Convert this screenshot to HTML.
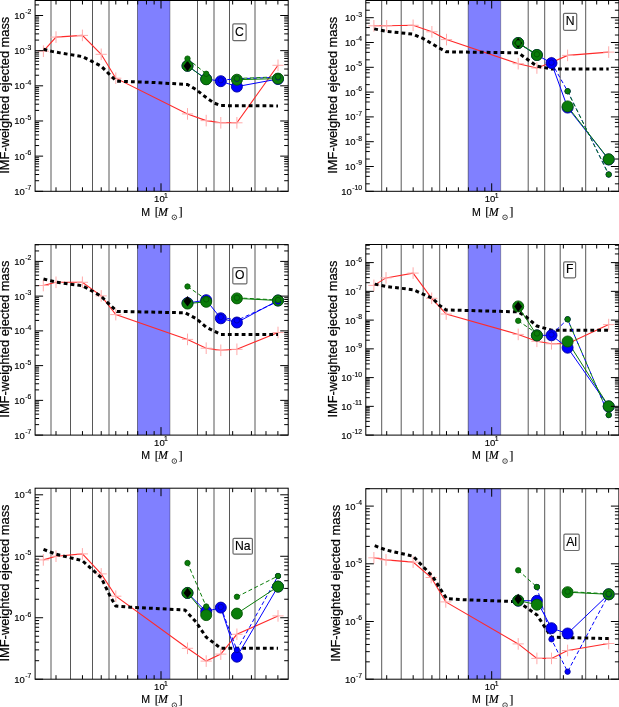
<!DOCTYPE html>
<html><head><meta charset="utf-8"><title>IMF-weighted ejected mass</title>
<style>
html,body{margin:0;padding:0;background:#fff;}
body{width:619px;height:707px;overflow:hidden;font-family:"Liberation Sans",sans-serif;}
svg{display:block;filter:blur(0.45px);}
</style></head><body>
<svg width="619" height="707" viewBox="0 0 619 707">
<rect width="619" height="707" fill="#fff"/>
<rect x="137.5" y="0.5" width="32.5" height="190.8" fill="#8080ff"/>
<line x1="137.5" y1="0.5" x2="137.5" y2="191.3" stroke="#000" stroke-width="1" stroke-opacity="0.45"/>
<line x1="170" y1="0.5" x2="170" y2="191.3" stroke="#000" stroke-width="1" stroke-opacity="0.3"/>
<line x1="51" y1="0.5" x2="51" y2="191.3" stroke="#000" stroke-width="1" stroke-opacity="0.66"/>
<line x1="70.5" y1="0.5" x2="70.5" y2="191.3" stroke="#000" stroke-width="1" stroke-opacity="0.66"/>
<line x1="92.5" y1="0.5" x2="92.5" y2="191.3" stroke="#000" stroke-width="1" stroke-opacity="0.66"/>
<line x1="109" y1="0.5" x2="109" y2="191.3" stroke="#000" stroke-width="1" stroke-opacity="0.66"/>
<line x1="197.5" y1="0.5" x2="197.5" y2="191.3" stroke="#000" stroke-width="1" stroke-opacity="0.66"/>
<line x1="214" y1="0.5" x2="214" y2="191.3" stroke="#000" stroke-width="1" stroke-opacity="0.66"/>
<line x1="229.5" y1="0.5" x2="229.5" y2="191.3" stroke="#000" stroke-width="1" stroke-opacity="0.66"/>
<line x1="255" y1="0.5" x2="255" y2="191.3" stroke="#000" stroke-width="1" stroke-opacity="0.66"/>
<polyline points="43.4,51.2 56,37.1 82.4,35.4 101.2,54.3 115.8,78.2 187.5,113.9 206.2,120.6 220.8,122.8 236.9,122.8 278,65.3" fill="none" stroke="#ff2a2a" stroke-width="1.1" />
<line x1="37.8" y1="51.2" x2="49" y2="51.2" stroke="#ffaaaa" stroke-width="1" />
<line x1="43.4" y1="45.4" x2="43.4" y2="57" stroke="#ffaaaa" stroke-width="1" />
<line x1="50.4" y1="37.1" x2="61.6" y2="37.1" stroke="#ffaaaa" stroke-width="1" />
<line x1="56" y1="31.3" x2="56" y2="42.9" stroke="#ffaaaa" stroke-width="1" />
<line x1="76.8" y1="35.4" x2="88" y2="35.4" stroke="#ffaaaa" stroke-width="1" />
<line x1="82.4" y1="29.6" x2="82.4" y2="41.2" stroke="#ffaaaa" stroke-width="1" />
<line x1="95.6" y1="54.3" x2="106.8" y2="54.3" stroke="#ffaaaa" stroke-width="1" />
<line x1="101.2" y1="48.5" x2="101.2" y2="60.1" stroke="#ffaaaa" stroke-width="1" />
<line x1="110.2" y1="78.2" x2="121.4" y2="78.2" stroke="#ffaaaa" stroke-width="1" />
<line x1="115.8" y1="72.4" x2="115.8" y2="84" stroke="#ffaaaa" stroke-width="1" />
<line x1="181.9" y1="113.9" x2="193.1" y2="113.9" stroke="#ffaaaa" stroke-width="1" />
<line x1="187.5" y1="108.1" x2="187.5" y2="119.7" stroke="#ffaaaa" stroke-width="1" />
<line x1="200.6" y1="120.6" x2="211.8" y2="120.6" stroke="#ffaaaa" stroke-width="1" />
<line x1="206.2" y1="114.8" x2="206.2" y2="126.4" stroke="#ffaaaa" stroke-width="1" />
<line x1="215.2" y1="122.8" x2="226.4" y2="122.8" stroke="#ffaaaa" stroke-width="1" />
<line x1="220.8" y1="117" x2="220.8" y2="128.6" stroke="#ffaaaa" stroke-width="1" />
<line x1="231.3" y1="122.8" x2="242.5" y2="122.8" stroke="#ffaaaa" stroke-width="1" />
<line x1="236.9" y1="117" x2="236.9" y2="128.6" stroke="#ffaaaa" stroke-width="1" />
<line x1="272.4" y1="65.3" x2="283.6" y2="65.3" stroke="#ffaaaa" stroke-width="1" />
<line x1="278" y1="59.5" x2="278" y2="71.1" stroke="#ffaaaa" stroke-width="1" />
<polyline points="43.5,49.3 52,51.4 60,52.9 82.4,56.6 91.5,61.2 101.2,66.2 109.3,74.3 116.5,81.2 150,82.3 187.5,84.5 196,89.5 206.2,97.5 214,103 220.8,105.6 278,105.9" fill="none" stroke="#000" stroke-width="3" stroke-dasharray="3.8,3.1" stroke-linejoin="round"/>
<polyline points="187.5,65.8 206.2,79 220.8,81.2 236.9,86.6 278,79" fill="none" stroke="#0000ff" stroke-width="1" />
<polyline points="220.8,80.2 236.9,78.8 278,77.3" fill="none" stroke="#0000ff" stroke-width="1" stroke-dasharray="4,2.5"/>
<polyline points="187.5,65.8 206.2,79.3" fill="none" stroke="#0a7d0a" stroke-width="1" />
<polyline points="236.9,79.7 278,78.6" fill="none" stroke="#0a7d0a" stroke-width="1" />
<polyline points="187.5,58.6 206.2,73.8" fill="none" stroke="#0a7d0a" stroke-width="1" stroke-dasharray="4,2.5"/>
<polyline points="236.9,78.5 278,76.8" fill="none" stroke="#0a7d0a" stroke-width="1" stroke-dasharray="4,2.5"/>
<circle cx="187.5" cy="65.8" r="5.5" fill="#0000ff" stroke="#0000a0" stroke-width="0.9" />
<circle cx="206.2" cy="79" r="5.5" fill="#0000ff" stroke="#0000a0" stroke-width="0.9" />
<circle cx="220.8" cy="81.2" r="5.5" fill="#0000ff" stroke="#0000a0" stroke-width="0.9" />
<circle cx="236.9" cy="86.6" r="5.5" fill="#0000ff" stroke="#0000a0" stroke-width="0.9" />
<circle cx="278" cy="79" r="5.5" fill="#0000ff" stroke="#0000a0" stroke-width="0.9" />
<circle cx="187.5" cy="65.8" r="5.5" fill="#0a7d0a" stroke="#055505" stroke-width="0.9" />
<circle cx="206.2" cy="79.3" r="5.5" fill="#0a7d0a" stroke="#055505" stroke-width="0.9" />
<circle cx="236.9" cy="79.7" r="5.5" fill="#0a7d0a" stroke="#055505" stroke-width="0.9" />
<circle cx="278" cy="78.6" r="5.5" fill="#0a7d0a" stroke="#055505" stroke-width="0.9" />
<polygon points="187.5,60.8 191.4,66 187.5,71.2 183.6,66" fill="#000"/>
<circle cx="220.8" cy="80.2" r="2.7" fill="#0000ff" stroke="#0000a0" stroke-width="0.8" />
<circle cx="236.9" cy="78.8" r="2.7" fill="#0000ff" stroke="#0000a0" stroke-width="0.8" />
<circle cx="278" cy="77.3" r="2.7" fill="#0000ff" stroke="#0000a0" stroke-width="0.8" />
<circle cx="187.5" cy="58.6" r="2.7" fill="#0a7d0a" stroke="#055505" stroke-width="0.8" />
<circle cx="206.2" cy="73.8" r="2.7" fill="#0a7d0a" stroke="#055505" stroke-width="0.8" />
<circle cx="236.9" cy="78.5" r="2.7" fill="#0a7d0a" stroke="#055505" stroke-width="0.8" />
<circle cx="278" cy="76.8" r="2.7" fill="#0a7d0a" stroke="#055505" stroke-width="0.8" />
<rect x="232.8" y="23.8" width="13.3" height="16.8" rx="1.2" fill="#fff" stroke="#6a6a6a" stroke-width="1.2"/>
<text x="239.45" y="35.8" font-family="Liberation Sans" font-size="12.2" text-anchor="middle" stroke="#000" stroke-width="0.15" >C</text>
<rect x="35.1" y="0.5" width="253.1" height="190.8" fill="none" stroke="#000" stroke-width="1"/>
<line x1="35.1" y1="191.3" x2="43.1" y2="191.3" stroke="#000" stroke-width="1" />
<line x1="280.2" y1="191.3" x2="288.2" y2="191.3" stroke="#000" stroke-width="1" />
<text x="24.85" y="194.8" font-family="Liberation Sans" font-size="9.5" text-anchor="end" stroke="#000" stroke-width="0.15" >10</text>
<text x="31.4" y="190.2" font-family="Liberation Sans" font-size="6.8" text-anchor="end" stroke="#000" stroke-width="0.15" >-7</text>
<line x1="35.1" y1="180.72" x2="39.1" y2="180.72" stroke="#000" stroke-width="1" />
<line x1="284.2" y1="180.72" x2="288.2" y2="180.72" stroke="#000" stroke-width="1" />
<line x1="35.1" y1="174.52" x2="39.1" y2="174.52" stroke="#000" stroke-width="1" />
<line x1="284.2" y1="174.52" x2="288.2" y2="174.52" stroke="#000" stroke-width="1" />
<line x1="35.1" y1="170.13" x2="39.1" y2="170.13" stroke="#000" stroke-width="1" />
<line x1="284.2" y1="170.13" x2="288.2" y2="170.13" stroke="#000" stroke-width="1" />
<line x1="35.1" y1="166.72" x2="39.1" y2="166.72" stroke="#000" stroke-width="1" />
<line x1="284.2" y1="166.72" x2="288.2" y2="166.72" stroke="#000" stroke-width="1" />
<line x1="35.1" y1="163.94" x2="39.1" y2="163.94" stroke="#000" stroke-width="1" />
<line x1="284.2" y1="163.94" x2="288.2" y2="163.94" stroke="#000" stroke-width="1" />
<line x1="35.1" y1="161.59" x2="39.1" y2="161.59" stroke="#000" stroke-width="1" />
<line x1="284.2" y1="161.59" x2="288.2" y2="161.59" stroke="#000" stroke-width="1" />
<line x1="35.1" y1="159.55" x2="39.1" y2="159.55" stroke="#000" stroke-width="1" />
<line x1="284.2" y1="159.55" x2="288.2" y2="159.55" stroke="#000" stroke-width="1" />
<line x1="35.1" y1="157.75" x2="39.1" y2="157.75" stroke="#000" stroke-width="1" />
<line x1="284.2" y1="157.75" x2="288.2" y2="157.75" stroke="#000" stroke-width="1" />
<line x1="35.1" y1="156.14" x2="43.1" y2="156.14" stroke="#000" stroke-width="1" />
<line x1="280.2" y1="156.14" x2="288.2" y2="156.14" stroke="#000" stroke-width="1" />
<text x="24.85" y="159.64" font-family="Liberation Sans" font-size="9.5" text-anchor="end" stroke="#000" stroke-width="0.15" >10</text>
<text x="31.4" y="155.04" font-family="Liberation Sans" font-size="6.8" text-anchor="end" stroke="#000" stroke-width="0.15" >-6</text>
<line x1="35.1" y1="145.56" x2="39.1" y2="145.56" stroke="#000" stroke-width="1" />
<line x1="284.2" y1="145.56" x2="288.2" y2="145.56" stroke="#000" stroke-width="1" />
<line x1="35.1" y1="139.36" x2="39.1" y2="139.36" stroke="#000" stroke-width="1" />
<line x1="284.2" y1="139.36" x2="288.2" y2="139.36" stroke="#000" stroke-width="1" />
<line x1="35.1" y1="134.97" x2="39.1" y2="134.97" stroke="#000" stroke-width="1" />
<line x1="284.2" y1="134.97" x2="288.2" y2="134.97" stroke="#000" stroke-width="1" />
<line x1="35.1" y1="131.56" x2="39.1" y2="131.56" stroke="#000" stroke-width="1" />
<line x1="284.2" y1="131.56" x2="288.2" y2="131.56" stroke="#000" stroke-width="1" />
<line x1="35.1" y1="128.78" x2="39.1" y2="128.78" stroke="#000" stroke-width="1" />
<line x1="284.2" y1="128.78" x2="288.2" y2="128.78" stroke="#000" stroke-width="1" />
<line x1="35.1" y1="126.43" x2="39.1" y2="126.43" stroke="#000" stroke-width="1" />
<line x1="284.2" y1="126.43" x2="288.2" y2="126.43" stroke="#000" stroke-width="1" />
<line x1="35.1" y1="124.39" x2="39.1" y2="124.39" stroke="#000" stroke-width="1" />
<line x1="284.2" y1="124.39" x2="288.2" y2="124.39" stroke="#000" stroke-width="1" />
<line x1="35.1" y1="122.59" x2="39.1" y2="122.59" stroke="#000" stroke-width="1" />
<line x1="284.2" y1="122.59" x2="288.2" y2="122.59" stroke="#000" stroke-width="1" />
<line x1="35.1" y1="120.98" x2="43.1" y2="120.98" stroke="#000" stroke-width="1" />
<line x1="280.2" y1="120.98" x2="288.2" y2="120.98" stroke="#000" stroke-width="1" />
<text x="24.85" y="124.48" font-family="Liberation Sans" font-size="9.5" text-anchor="end" stroke="#000" stroke-width="0.15" >10</text>
<text x="31.4" y="119.88" font-family="Liberation Sans" font-size="6.8" text-anchor="end" stroke="#000" stroke-width="0.15" >-5</text>
<line x1="35.1" y1="110.4" x2="39.1" y2="110.4" stroke="#000" stroke-width="1" />
<line x1="284.2" y1="110.4" x2="288.2" y2="110.4" stroke="#000" stroke-width="1" />
<line x1="35.1" y1="104.2" x2="39.1" y2="104.2" stroke="#000" stroke-width="1" />
<line x1="284.2" y1="104.2" x2="288.2" y2="104.2" stroke="#000" stroke-width="1" />
<line x1="35.1" y1="99.81" x2="39.1" y2="99.81" stroke="#000" stroke-width="1" />
<line x1="284.2" y1="99.81" x2="288.2" y2="99.81" stroke="#000" stroke-width="1" />
<line x1="35.1" y1="96.4" x2="39.1" y2="96.4" stroke="#000" stroke-width="1" />
<line x1="284.2" y1="96.4" x2="288.2" y2="96.4" stroke="#000" stroke-width="1" />
<line x1="35.1" y1="93.62" x2="39.1" y2="93.62" stroke="#000" stroke-width="1" />
<line x1="284.2" y1="93.62" x2="288.2" y2="93.62" stroke="#000" stroke-width="1" />
<line x1="35.1" y1="91.27" x2="39.1" y2="91.27" stroke="#000" stroke-width="1" />
<line x1="284.2" y1="91.27" x2="288.2" y2="91.27" stroke="#000" stroke-width="1" />
<line x1="35.1" y1="89.23" x2="39.1" y2="89.23" stroke="#000" stroke-width="1" />
<line x1="284.2" y1="89.23" x2="288.2" y2="89.23" stroke="#000" stroke-width="1" />
<line x1="35.1" y1="87.43" x2="39.1" y2="87.43" stroke="#000" stroke-width="1" />
<line x1="284.2" y1="87.43" x2="288.2" y2="87.43" stroke="#000" stroke-width="1" />
<line x1="35.1" y1="85.82" x2="43.1" y2="85.82" stroke="#000" stroke-width="1" />
<line x1="280.2" y1="85.82" x2="288.2" y2="85.82" stroke="#000" stroke-width="1" />
<text x="24.85" y="89.32" font-family="Liberation Sans" font-size="9.5" text-anchor="end" stroke="#000" stroke-width="0.15" >10</text>
<text x="31.4" y="84.72" font-family="Liberation Sans" font-size="6.8" text-anchor="end" stroke="#000" stroke-width="0.15" >-4</text>
<line x1="35.1" y1="75.24" x2="39.1" y2="75.24" stroke="#000" stroke-width="1" />
<line x1="284.2" y1="75.24" x2="288.2" y2="75.24" stroke="#000" stroke-width="1" />
<line x1="35.1" y1="69.04" x2="39.1" y2="69.04" stroke="#000" stroke-width="1" />
<line x1="284.2" y1="69.04" x2="288.2" y2="69.04" stroke="#000" stroke-width="1" />
<line x1="35.1" y1="64.65" x2="39.1" y2="64.65" stroke="#000" stroke-width="1" />
<line x1="284.2" y1="64.65" x2="288.2" y2="64.65" stroke="#000" stroke-width="1" />
<line x1="35.1" y1="61.24" x2="39.1" y2="61.24" stroke="#000" stroke-width="1" />
<line x1="284.2" y1="61.24" x2="288.2" y2="61.24" stroke="#000" stroke-width="1" />
<line x1="35.1" y1="58.46" x2="39.1" y2="58.46" stroke="#000" stroke-width="1" />
<line x1="284.2" y1="58.46" x2="288.2" y2="58.46" stroke="#000" stroke-width="1" />
<line x1="35.1" y1="56.11" x2="39.1" y2="56.11" stroke="#000" stroke-width="1" />
<line x1="284.2" y1="56.11" x2="288.2" y2="56.11" stroke="#000" stroke-width="1" />
<line x1="35.1" y1="54.07" x2="39.1" y2="54.07" stroke="#000" stroke-width="1" />
<line x1="284.2" y1="54.07" x2="288.2" y2="54.07" stroke="#000" stroke-width="1" />
<line x1="35.1" y1="52.27" x2="39.1" y2="52.27" stroke="#000" stroke-width="1" />
<line x1="284.2" y1="52.27" x2="288.2" y2="52.27" stroke="#000" stroke-width="1" />
<line x1="35.1" y1="50.66" x2="43.1" y2="50.66" stroke="#000" stroke-width="1" />
<line x1="280.2" y1="50.66" x2="288.2" y2="50.66" stroke="#000" stroke-width="1" />
<text x="24.85" y="54.16" font-family="Liberation Sans" font-size="9.5" text-anchor="end" stroke="#000" stroke-width="0.15" >10</text>
<text x="31.4" y="49.56" font-family="Liberation Sans" font-size="6.8" text-anchor="end" stroke="#000" stroke-width="0.15" >-3</text>
<line x1="35.1" y1="40.08" x2="39.1" y2="40.08" stroke="#000" stroke-width="1" />
<line x1="284.2" y1="40.08" x2="288.2" y2="40.08" stroke="#000" stroke-width="1" />
<line x1="35.1" y1="33.88" x2="39.1" y2="33.88" stroke="#000" stroke-width="1" />
<line x1="284.2" y1="33.88" x2="288.2" y2="33.88" stroke="#000" stroke-width="1" />
<line x1="35.1" y1="29.49" x2="39.1" y2="29.49" stroke="#000" stroke-width="1" />
<line x1="284.2" y1="29.49" x2="288.2" y2="29.49" stroke="#000" stroke-width="1" />
<line x1="35.1" y1="26.08" x2="39.1" y2="26.08" stroke="#000" stroke-width="1" />
<line x1="284.2" y1="26.08" x2="288.2" y2="26.08" stroke="#000" stroke-width="1" />
<line x1="35.1" y1="23.3" x2="39.1" y2="23.3" stroke="#000" stroke-width="1" />
<line x1="284.2" y1="23.3" x2="288.2" y2="23.3" stroke="#000" stroke-width="1" />
<line x1="35.1" y1="20.95" x2="39.1" y2="20.95" stroke="#000" stroke-width="1" />
<line x1="284.2" y1="20.95" x2="288.2" y2="20.95" stroke="#000" stroke-width="1" />
<line x1="35.1" y1="18.91" x2="39.1" y2="18.91" stroke="#000" stroke-width="1" />
<line x1="284.2" y1="18.91" x2="288.2" y2="18.91" stroke="#000" stroke-width="1" />
<line x1="35.1" y1="17.11" x2="39.1" y2="17.11" stroke="#000" stroke-width="1" />
<line x1="284.2" y1="17.11" x2="288.2" y2="17.11" stroke="#000" stroke-width="1" />
<line x1="35.1" y1="15.5" x2="43.1" y2="15.5" stroke="#000" stroke-width="1" />
<line x1="280.2" y1="15.5" x2="288.2" y2="15.5" stroke="#000" stroke-width="1" />
<text x="24.85" y="19" font-family="Liberation Sans" font-size="9.5" text-anchor="end" stroke="#000" stroke-width="0.15" >10</text>
<text x="31.4" y="14.4" font-family="Liberation Sans" font-size="6.8" text-anchor="end" stroke="#000" stroke-width="0.15" >-2</text>
<line x1="35.1" y1="4.92" x2="39.1" y2="4.92" stroke="#000" stroke-width="1" />
<line x1="284.2" y1="4.92" x2="288.2" y2="4.92" stroke="#000" stroke-width="1" />
<line x1="56.01" y1="191.3" x2="56.01" y2="187.3" stroke="#000" stroke-width="1" />
<line x1="56.01" y1="0.5" x2="56.01" y2="4.5" stroke="#000" stroke-width="1" />
<line x1="82.46" y1="191.3" x2="82.46" y2="187.3" stroke="#000" stroke-width="1" />
<line x1="82.46" y1="0.5" x2="82.46" y2="4.5" stroke="#000" stroke-width="1" />
<line x1="101.23" y1="191.3" x2="101.23" y2="187.3" stroke="#000" stroke-width="1" />
<line x1="101.23" y1="0.5" x2="101.23" y2="4.5" stroke="#000" stroke-width="1" />
<line x1="115.79" y1="191.3" x2="115.79" y2="187.3" stroke="#000" stroke-width="1" />
<line x1="115.79" y1="0.5" x2="115.79" y2="4.5" stroke="#000" stroke-width="1" />
<line x1="127.68" y1="191.3" x2="127.68" y2="187.3" stroke="#000" stroke-width="1" />
<line x1="127.68" y1="0.5" x2="127.68" y2="4.5" stroke="#000" stroke-width="1" />
<line x1="137.73" y1="191.3" x2="137.73" y2="187.3" stroke="#000" stroke-width="1" />
<line x1="137.73" y1="0.5" x2="137.73" y2="4.5" stroke="#000" stroke-width="1" />
<line x1="146.44" y1="191.3" x2="146.44" y2="187.3" stroke="#000" stroke-width="1" />
<line x1="146.44" y1="0.5" x2="146.44" y2="4.5" stroke="#000" stroke-width="1" />
<line x1="154.13" y1="191.3" x2="154.13" y2="187.3" stroke="#000" stroke-width="1" />
<line x1="154.13" y1="0.5" x2="154.13" y2="4.5" stroke="#000" stroke-width="1" />
<line x1="161" y1="191.3" x2="161" y2="183.3" stroke="#000" stroke-width="1" />
<line x1="161" y1="0.5" x2="161" y2="8.5" stroke="#000" stroke-width="1" />
<line x1="206.21" y1="191.3" x2="206.21" y2="187.3" stroke="#000" stroke-width="1" />
<line x1="206.21" y1="0.5" x2="206.21" y2="4.5" stroke="#000" stroke-width="1" />
<line x1="232.66" y1="191.3" x2="232.66" y2="187.3" stroke="#000" stroke-width="1" />
<line x1="232.66" y1="0.5" x2="232.66" y2="4.5" stroke="#000" stroke-width="1" />
<line x1="251.43" y1="191.3" x2="251.43" y2="187.3" stroke="#000" stroke-width="1" />
<line x1="251.43" y1="0.5" x2="251.43" y2="4.5" stroke="#000" stroke-width="1" />
<line x1="265.99" y1="191.3" x2="265.99" y2="187.3" stroke="#000" stroke-width="1" />
<line x1="265.99" y1="0.5" x2="265.99" y2="4.5" stroke="#000" stroke-width="1" />
<line x1="277.88" y1="191.3" x2="277.88" y2="187.3" stroke="#000" stroke-width="1" />
<line x1="277.88" y1="0.5" x2="277.88" y2="4.5" stroke="#000" stroke-width="1" />
<text x="159.4" y="202.4" font-family="Liberation Sans" font-size="9.5" text-anchor="middle" stroke="#000" stroke-width="0.15" >10</text>
<text x="166" y="197.6" font-family="Liberation Sans" font-size="6.8" text-anchor="middle" stroke="#000" stroke-width="0.15" >1</text>
<text x="141.25" y="215.5" font-family="Liberation Sans" font-size="10.6" text-anchor="start" stroke="#000" stroke-width="0.15" >M</text>
<text x="154.65" y="215.9" font-family="Liberation Serif" font-size="12.5" text-anchor="start" stroke="#000" stroke-width="0.15" >[</text>
<text x="158.05" y="215.5" font-family="Liberation Serif" font-size="11.9" text-anchor="start" stroke="#000" stroke-width="0.15" font-style="italic">M</text>
<circle cx="174.35" cy="217.3" r="2.3" fill="none" stroke="#000" stroke-width="0.7" />
<circle cx="174.35" cy="217.3" r="0.5" fill="#000" stroke="none" stroke-width="1" />
<text x="178.45" y="215.9" font-family="Liberation Serif" font-size="12.5" text-anchor="start" stroke="#000" stroke-width="0.15" >]</text>
<text x="0" y="0" font-family="Liberation Sans" font-size="12" text-anchor="middle" stroke="#000" stroke-width="0.22" textLength="157" lengthAdjust="spacingAndGlyphs" transform="translate(9.2,95.2) rotate(-90)">IMF-weighted ejected mass</text>
<rect x="468.2" y="0.5" width="32.5" height="190.8" fill="#8080ff"/>
<line x1="468.2" y1="0.5" x2="468.2" y2="191.3" stroke="#000" stroke-width="1" stroke-opacity="0.45"/>
<line x1="500.7" y1="0.5" x2="500.7" y2="191.3" stroke="#000" stroke-width="1" stroke-opacity="0.3"/>
<line x1="381.7" y1="0.5" x2="381.7" y2="191.3" stroke="#000" stroke-width="1" stroke-opacity="0.66"/>
<line x1="401.2" y1="0.5" x2="401.2" y2="191.3" stroke="#000" stroke-width="1" stroke-opacity="0.66"/>
<line x1="423.2" y1="0.5" x2="423.2" y2="191.3" stroke="#000" stroke-width="1" stroke-opacity="0.66"/>
<line x1="439.7" y1="0.5" x2="439.7" y2="191.3" stroke="#000" stroke-width="1" stroke-opacity="0.66"/>
<line x1="528.2" y1="0.5" x2="528.2" y2="191.3" stroke="#000" stroke-width="1" stroke-opacity="0.66"/>
<line x1="544.7" y1="0.5" x2="544.7" y2="191.3" stroke="#000" stroke-width="1" stroke-opacity="0.66"/>
<line x1="560.2" y1="0.5" x2="560.2" y2="191.3" stroke="#000" stroke-width="1" stroke-opacity="0.66"/>
<line x1="585.7" y1="0.5" x2="585.7" y2="191.3" stroke="#000" stroke-width="1" stroke-opacity="0.66"/>
<polyline points="373.9,25.8 386.7,25.8 413.1,25.3 431.9,31.8 446.5,39.6 518.2,63.7 536.9,68 551.5,62.5 567.6,55.4 608.7,52.1" fill="none" stroke="#ff2a2a" stroke-width="1.1" />
<line x1="368.3" y1="25.8" x2="379.5" y2="25.8" stroke="#ffaaaa" stroke-width="1" />
<line x1="373.9" y1="20" x2="373.9" y2="31.6" stroke="#ffaaaa" stroke-width="1" />
<line x1="381.1" y1="25.8" x2="392.3" y2="25.8" stroke="#ffaaaa" stroke-width="1" />
<line x1="386.7" y1="20" x2="386.7" y2="31.6" stroke="#ffaaaa" stroke-width="1" />
<line x1="407.5" y1="25.3" x2="418.7" y2="25.3" stroke="#ffaaaa" stroke-width="1" />
<line x1="413.1" y1="19.5" x2="413.1" y2="31.1" stroke="#ffaaaa" stroke-width="1" />
<line x1="426.3" y1="31.8" x2="437.5" y2="31.8" stroke="#ffaaaa" stroke-width="1" />
<line x1="431.9" y1="26" x2="431.9" y2="37.6" stroke="#ffaaaa" stroke-width="1" />
<line x1="440.9" y1="39.6" x2="452.1" y2="39.6" stroke="#ffaaaa" stroke-width="1" />
<line x1="446.5" y1="33.8" x2="446.5" y2="45.4" stroke="#ffaaaa" stroke-width="1" />
<line x1="512.6" y1="63.7" x2="523.8" y2="63.7" stroke="#ffaaaa" stroke-width="1" />
<line x1="518.2" y1="57.9" x2="518.2" y2="69.5" stroke="#ffaaaa" stroke-width="1" />
<line x1="531.3" y1="68" x2="542.5" y2="68" stroke="#ffaaaa" stroke-width="1" />
<line x1="536.9" y1="62.2" x2="536.9" y2="73.8" stroke="#ffaaaa" stroke-width="1" />
<line x1="545.9" y1="62.5" x2="557.1" y2="62.5" stroke="#ffaaaa" stroke-width="1" />
<line x1="551.5" y1="56.7" x2="551.5" y2="68.3" stroke="#ffaaaa" stroke-width="1" />
<line x1="562" y1="55.4" x2="573.2" y2="55.4" stroke="#ffaaaa" stroke-width="1" />
<line x1="567.6" y1="49.6" x2="567.6" y2="61.2" stroke="#ffaaaa" stroke-width="1" />
<line x1="603.1" y1="52.1" x2="614.3" y2="52.1" stroke="#ffaaaa" stroke-width="1" />
<line x1="608.7" y1="46.3" x2="608.7" y2="57.9" stroke="#ffaaaa" stroke-width="1" />
<polyline points="374.2,28.9 386.2,31.3 413.1,34.2 422.7,38.3 433.7,44.7 440.2,48.5 446.2,51.8 518.2,52.8 536.9,66.2 551.5,69 608.7,69" fill="none" stroke="#000" stroke-width="3" stroke-dasharray="3.8,3.1" stroke-linejoin="round"/>
<polyline points="518.2,43 536.9,55 551.5,63.1 567.6,107.6 608.7,159.5" fill="none" stroke="#0000ff" stroke-width="1" />
<polyline points="551.5,62.6 567.6,91.2 608.7,174.5" fill="none" stroke="#0000ff" stroke-width="1" stroke-dasharray="4,2.5"/>
<polyline points="518.2,43 536.9,55" fill="none" stroke="#0a7d0a" stroke-width="1" />
<polyline points="567.6,106.4 608.7,159.3" fill="none" stroke="#0a7d0a" stroke-width="1" />
<polyline points="518.2,43 536.9,54.3" fill="none" stroke="#0a7d0a" stroke-width="1" stroke-dasharray="4,2.5"/>
<polyline points="567.6,91.2 608.7,174.5" fill="none" stroke="#0a7d0a" stroke-width="1" stroke-dasharray="4,2.5"/>
<circle cx="518.2" cy="43" r="5.5" fill="#0000ff" stroke="#0000a0" stroke-width="0.9" />
<circle cx="536.9" cy="55" r="5.5" fill="#0000ff" stroke="#0000a0" stroke-width="0.9" />
<circle cx="551.5" cy="63.1" r="5.5" fill="#0000ff" stroke="#0000a0" stroke-width="0.9" />
<circle cx="567.6" cy="107.6" r="5.5" fill="#0000ff" stroke="#0000a0" stroke-width="0.9" />
<circle cx="608.7" cy="159.5" r="5.5" fill="#0000ff" stroke="#0000a0" stroke-width="0.9" />
<circle cx="518.2" cy="43" r="5.5" fill="#0a7d0a" stroke="#055505" stroke-width="0.9" />
<circle cx="536.9" cy="55" r="5.5" fill="#0a7d0a" stroke="#055505" stroke-width="0.9" />
<circle cx="567.6" cy="106.4" r="5.5" fill="#0a7d0a" stroke="#055505" stroke-width="0.9" />
<circle cx="608.7" cy="159.3" r="5.5" fill="#0a7d0a" stroke="#055505" stroke-width="0.9" />
<polygon points="518.2,37.8 522.1,43 518.2,48.2 514.3,43" fill="#000"/>
<circle cx="551.5" cy="62.6" r="2.7" fill="#0000ff" stroke="#0000a0" stroke-width="0.8" />
<circle cx="567.6" cy="91.2" r="2.7" fill="#0000ff" stroke="#0000a0" stroke-width="0.8" />
<circle cx="608.7" cy="174.5" r="2.7" fill="#0000ff" stroke="#0000a0" stroke-width="0.8" />
<circle cx="518.2" cy="43" r="2.7" fill="#0a7d0a" stroke="#055505" stroke-width="0.8" />
<circle cx="536.9" cy="54.3" r="2.7" fill="#0a7d0a" stroke="#055505" stroke-width="0.8" />
<circle cx="567.6" cy="91.2" r="2.7" fill="#0a7d0a" stroke="#055505" stroke-width="0.8" />
<circle cx="608.7" cy="174.5" r="2.7" fill="#0a7d0a" stroke="#055505" stroke-width="0.8" />
<rect x="563.5" y="13.4" width="13.2" height="16.9" rx="1.2" fill="#fff" stroke="#6a6a6a" stroke-width="1.2"/>
<text x="570.1" y="25.45" font-family="Liberation Sans" font-size="12.2" text-anchor="middle" stroke="#000" stroke-width="0.15" >N</text>
<rect x="365.8" y="0.5" width="253.1" height="190.8" fill="none" stroke="#000" stroke-width="1"/>
<line x1="365.8" y1="191.3" x2="373.8" y2="191.3" stroke="#000" stroke-width="1" />
<line x1="610.9" y1="191.3" x2="618.9" y2="191.3" stroke="#000" stroke-width="1" />
<text x="351.77" y="194.8" font-family="Liberation Sans" font-size="9.5" text-anchor="end" stroke="#000" stroke-width="0.15" >10</text>
<text x="362.1" y="190.2" font-family="Liberation Sans" font-size="6.8" text-anchor="end" stroke="#000" stroke-width="0.15" >-10</text>
<line x1="365.8" y1="183.83" x2="369.8" y2="183.83" stroke="#000" stroke-width="1" />
<line x1="614.9" y1="183.83" x2="618.9" y2="183.83" stroke="#000" stroke-width="1" />
<line x1="365.8" y1="176.37" x2="369.8" y2="176.37" stroke="#000" stroke-width="1" />
<line x1="614.9" y1="176.37" x2="618.9" y2="176.37" stroke="#000" stroke-width="1" />
<line x1="365.8" y1="172" x2="369.8" y2="172" stroke="#000" stroke-width="1" />
<line x1="614.9" y1="172" x2="618.9" y2="172" stroke="#000" stroke-width="1" />
<line x1="365.8" y1="168.9" x2="369.8" y2="168.9" stroke="#000" stroke-width="1" />
<line x1="614.9" y1="168.9" x2="618.9" y2="168.9" stroke="#000" stroke-width="1" />
<line x1="365.8" y1="166.5" x2="373.8" y2="166.5" stroke="#000" stroke-width="1" />
<line x1="610.9" y1="166.5" x2="618.9" y2="166.5" stroke="#000" stroke-width="1" />
<text x="355.55" y="170" font-family="Liberation Sans" font-size="9.5" text-anchor="end" stroke="#000" stroke-width="0.15" >10</text>
<text x="362.1" y="165.4" font-family="Liberation Sans" font-size="6.8" text-anchor="end" stroke="#000" stroke-width="0.15" >-9</text>
<line x1="365.8" y1="159.03" x2="369.8" y2="159.03" stroke="#000" stroke-width="1" />
<line x1="614.9" y1="159.03" x2="618.9" y2="159.03" stroke="#000" stroke-width="1" />
<line x1="365.8" y1="151.57" x2="369.8" y2="151.57" stroke="#000" stroke-width="1" />
<line x1="614.9" y1="151.57" x2="618.9" y2="151.57" stroke="#000" stroke-width="1" />
<line x1="365.8" y1="147.2" x2="369.8" y2="147.2" stroke="#000" stroke-width="1" />
<line x1="614.9" y1="147.2" x2="618.9" y2="147.2" stroke="#000" stroke-width="1" />
<line x1="365.8" y1="144.1" x2="369.8" y2="144.1" stroke="#000" stroke-width="1" />
<line x1="614.9" y1="144.1" x2="618.9" y2="144.1" stroke="#000" stroke-width="1" />
<line x1="365.8" y1="141.7" x2="373.8" y2="141.7" stroke="#000" stroke-width="1" />
<line x1="610.9" y1="141.7" x2="618.9" y2="141.7" stroke="#000" stroke-width="1" />
<text x="355.55" y="145.2" font-family="Liberation Sans" font-size="9.5" text-anchor="end" stroke="#000" stroke-width="0.15" >10</text>
<text x="362.1" y="140.6" font-family="Liberation Sans" font-size="6.8" text-anchor="end" stroke="#000" stroke-width="0.15" >-8</text>
<line x1="365.8" y1="134.23" x2="369.8" y2="134.23" stroke="#000" stroke-width="1" />
<line x1="614.9" y1="134.23" x2="618.9" y2="134.23" stroke="#000" stroke-width="1" />
<line x1="365.8" y1="126.77" x2="369.8" y2="126.77" stroke="#000" stroke-width="1" />
<line x1="614.9" y1="126.77" x2="618.9" y2="126.77" stroke="#000" stroke-width="1" />
<line x1="365.8" y1="122.4" x2="369.8" y2="122.4" stroke="#000" stroke-width="1" />
<line x1="614.9" y1="122.4" x2="618.9" y2="122.4" stroke="#000" stroke-width="1" />
<line x1="365.8" y1="119.3" x2="369.8" y2="119.3" stroke="#000" stroke-width="1" />
<line x1="614.9" y1="119.3" x2="618.9" y2="119.3" stroke="#000" stroke-width="1" />
<line x1="365.8" y1="116.9" x2="373.8" y2="116.9" stroke="#000" stroke-width="1" />
<line x1="610.9" y1="116.9" x2="618.9" y2="116.9" stroke="#000" stroke-width="1" />
<text x="355.55" y="120.4" font-family="Liberation Sans" font-size="9.5" text-anchor="end" stroke="#000" stroke-width="0.15" >10</text>
<text x="362.1" y="115.8" font-family="Liberation Sans" font-size="6.8" text-anchor="end" stroke="#000" stroke-width="0.15" >-7</text>
<line x1="365.8" y1="109.43" x2="369.8" y2="109.43" stroke="#000" stroke-width="1" />
<line x1="614.9" y1="109.43" x2="618.9" y2="109.43" stroke="#000" stroke-width="1" />
<line x1="365.8" y1="101.97" x2="369.8" y2="101.97" stroke="#000" stroke-width="1" />
<line x1="614.9" y1="101.97" x2="618.9" y2="101.97" stroke="#000" stroke-width="1" />
<line x1="365.8" y1="97.6" x2="369.8" y2="97.6" stroke="#000" stroke-width="1" />
<line x1="614.9" y1="97.6" x2="618.9" y2="97.6" stroke="#000" stroke-width="1" />
<line x1="365.8" y1="94.5" x2="369.8" y2="94.5" stroke="#000" stroke-width="1" />
<line x1="614.9" y1="94.5" x2="618.9" y2="94.5" stroke="#000" stroke-width="1" />
<line x1="365.8" y1="92.1" x2="373.8" y2="92.1" stroke="#000" stroke-width="1" />
<line x1="610.9" y1="92.1" x2="618.9" y2="92.1" stroke="#000" stroke-width="1" />
<text x="355.55" y="95.6" font-family="Liberation Sans" font-size="9.5" text-anchor="end" stroke="#000" stroke-width="0.15" >10</text>
<text x="362.1" y="91" font-family="Liberation Sans" font-size="6.8" text-anchor="end" stroke="#000" stroke-width="0.15" >-6</text>
<line x1="365.8" y1="84.63" x2="369.8" y2="84.63" stroke="#000" stroke-width="1" />
<line x1="614.9" y1="84.63" x2="618.9" y2="84.63" stroke="#000" stroke-width="1" />
<line x1="365.8" y1="77.17" x2="369.8" y2="77.17" stroke="#000" stroke-width="1" />
<line x1="614.9" y1="77.17" x2="618.9" y2="77.17" stroke="#000" stroke-width="1" />
<line x1="365.8" y1="72.8" x2="369.8" y2="72.8" stroke="#000" stroke-width="1" />
<line x1="614.9" y1="72.8" x2="618.9" y2="72.8" stroke="#000" stroke-width="1" />
<line x1="365.8" y1="69.7" x2="369.8" y2="69.7" stroke="#000" stroke-width="1" />
<line x1="614.9" y1="69.7" x2="618.9" y2="69.7" stroke="#000" stroke-width="1" />
<line x1="365.8" y1="67.3" x2="373.8" y2="67.3" stroke="#000" stroke-width="1" />
<line x1="610.9" y1="67.3" x2="618.9" y2="67.3" stroke="#000" stroke-width="1" />
<text x="355.55" y="70.8" font-family="Liberation Sans" font-size="9.5" text-anchor="end" stroke="#000" stroke-width="0.15" >10</text>
<text x="362.1" y="66.2" font-family="Liberation Sans" font-size="6.8" text-anchor="end" stroke="#000" stroke-width="0.15" >-5</text>
<line x1="365.8" y1="59.83" x2="369.8" y2="59.83" stroke="#000" stroke-width="1" />
<line x1="614.9" y1="59.83" x2="618.9" y2="59.83" stroke="#000" stroke-width="1" />
<line x1="365.8" y1="52.37" x2="369.8" y2="52.37" stroke="#000" stroke-width="1" />
<line x1="614.9" y1="52.37" x2="618.9" y2="52.37" stroke="#000" stroke-width="1" />
<line x1="365.8" y1="48" x2="369.8" y2="48" stroke="#000" stroke-width="1" />
<line x1="614.9" y1="48" x2="618.9" y2="48" stroke="#000" stroke-width="1" />
<line x1="365.8" y1="44.9" x2="369.8" y2="44.9" stroke="#000" stroke-width="1" />
<line x1="614.9" y1="44.9" x2="618.9" y2="44.9" stroke="#000" stroke-width="1" />
<line x1="365.8" y1="42.5" x2="373.8" y2="42.5" stroke="#000" stroke-width="1" />
<line x1="610.9" y1="42.5" x2="618.9" y2="42.5" stroke="#000" stroke-width="1" />
<text x="355.55" y="46" font-family="Liberation Sans" font-size="9.5" text-anchor="end" stroke="#000" stroke-width="0.15" >10</text>
<text x="362.1" y="41.4" font-family="Liberation Sans" font-size="6.8" text-anchor="end" stroke="#000" stroke-width="0.15" >-4</text>
<line x1="365.8" y1="35.03" x2="369.8" y2="35.03" stroke="#000" stroke-width="1" />
<line x1="614.9" y1="35.03" x2="618.9" y2="35.03" stroke="#000" stroke-width="1" />
<line x1="365.8" y1="27.57" x2="369.8" y2="27.57" stroke="#000" stroke-width="1" />
<line x1="614.9" y1="27.57" x2="618.9" y2="27.57" stroke="#000" stroke-width="1" />
<line x1="365.8" y1="23.2" x2="369.8" y2="23.2" stroke="#000" stroke-width="1" />
<line x1="614.9" y1="23.2" x2="618.9" y2="23.2" stroke="#000" stroke-width="1" />
<line x1="365.8" y1="20.1" x2="369.8" y2="20.1" stroke="#000" stroke-width="1" />
<line x1="614.9" y1="20.1" x2="618.9" y2="20.1" stroke="#000" stroke-width="1" />
<line x1="365.8" y1="17.7" x2="373.8" y2="17.7" stroke="#000" stroke-width="1" />
<line x1="610.9" y1="17.7" x2="618.9" y2="17.7" stroke="#000" stroke-width="1" />
<text x="355.55" y="21.2" font-family="Liberation Sans" font-size="9.5" text-anchor="end" stroke="#000" stroke-width="0.15" >10</text>
<text x="362.1" y="16.6" font-family="Liberation Sans" font-size="6.8" text-anchor="end" stroke="#000" stroke-width="0.15" >-3</text>
<line x1="365.8" y1="10.23" x2="369.8" y2="10.23" stroke="#000" stroke-width="1" />
<line x1="614.9" y1="10.23" x2="618.9" y2="10.23" stroke="#000" stroke-width="1" />
<line x1="365.8" y1="2.77" x2="369.8" y2="2.77" stroke="#000" stroke-width="1" />
<line x1="614.9" y1="2.77" x2="618.9" y2="2.77" stroke="#000" stroke-width="1" />
<line x1="386.71" y1="191.3" x2="386.71" y2="187.3" stroke="#000" stroke-width="1" />
<line x1="386.71" y1="0.5" x2="386.71" y2="4.5" stroke="#000" stroke-width="1" />
<line x1="413.16" y1="191.3" x2="413.16" y2="187.3" stroke="#000" stroke-width="1" />
<line x1="413.16" y1="0.5" x2="413.16" y2="4.5" stroke="#000" stroke-width="1" />
<line x1="431.93" y1="191.3" x2="431.93" y2="187.3" stroke="#000" stroke-width="1" />
<line x1="431.93" y1="0.5" x2="431.93" y2="4.5" stroke="#000" stroke-width="1" />
<line x1="446.49" y1="191.3" x2="446.49" y2="187.3" stroke="#000" stroke-width="1" />
<line x1="446.49" y1="0.5" x2="446.49" y2="4.5" stroke="#000" stroke-width="1" />
<line x1="458.38" y1="191.3" x2="458.38" y2="187.3" stroke="#000" stroke-width="1" />
<line x1="458.38" y1="0.5" x2="458.38" y2="4.5" stroke="#000" stroke-width="1" />
<line x1="468.43" y1="191.3" x2="468.43" y2="187.3" stroke="#000" stroke-width="1" />
<line x1="468.43" y1="0.5" x2="468.43" y2="4.5" stroke="#000" stroke-width="1" />
<line x1="477.14" y1="191.3" x2="477.14" y2="187.3" stroke="#000" stroke-width="1" />
<line x1="477.14" y1="0.5" x2="477.14" y2="4.5" stroke="#000" stroke-width="1" />
<line x1="484.83" y1="191.3" x2="484.83" y2="187.3" stroke="#000" stroke-width="1" />
<line x1="484.83" y1="0.5" x2="484.83" y2="4.5" stroke="#000" stroke-width="1" />
<line x1="491.7" y1="191.3" x2="491.7" y2="183.3" stroke="#000" stroke-width="1" />
<line x1="491.7" y1="0.5" x2="491.7" y2="8.5" stroke="#000" stroke-width="1" />
<line x1="536.91" y1="191.3" x2="536.91" y2="187.3" stroke="#000" stroke-width="1" />
<line x1="536.91" y1="0.5" x2="536.91" y2="4.5" stroke="#000" stroke-width="1" />
<line x1="563.36" y1="191.3" x2="563.36" y2="187.3" stroke="#000" stroke-width="1" />
<line x1="563.36" y1="0.5" x2="563.36" y2="4.5" stroke="#000" stroke-width="1" />
<line x1="582.13" y1="191.3" x2="582.13" y2="187.3" stroke="#000" stroke-width="1" />
<line x1="582.13" y1="0.5" x2="582.13" y2="4.5" stroke="#000" stroke-width="1" />
<line x1="596.69" y1="191.3" x2="596.69" y2="187.3" stroke="#000" stroke-width="1" />
<line x1="596.69" y1="0.5" x2="596.69" y2="4.5" stroke="#000" stroke-width="1" />
<line x1="608.58" y1="191.3" x2="608.58" y2="187.3" stroke="#000" stroke-width="1" />
<line x1="608.58" y1="0.5" x2="608.58" y2="4.5" stroke="#000" stroke-width="1" />
<text x="490.1" y="202.4" font-family="Liberation Sans" font-size="9.5" text-anchor="middle" stroke="#000" stroke-width="0.15" >10</text>
<text x="496.7" y="197.6" font-family="Liberation Sans" font-size="6.8" text-anchor="middle" stroke="#000" stroke-width="0.15" >1</text>
<text x="471.95" y="215.5" font-family="Liberation Sans" font-size="10.6" text-anchor="start" stroke="#000" stroke-width="0.15" >M</text>
<text x="485.35" y="215.9" font-family="Liberation Serif" font-size="12.5" text-anchor="start" stroke="#000" stroke-width="0.15" >[</text>
<text x="488.75" y="215.5" font-family="Liberation Serif" font-size="11.9" text-anchor="start" stroke="#000" stroke-width="0.15" font-style="italic">M</text>
<circle cx="505.05" cy="217.3" r="2.3" fill="none" stroke="#000" stroke-width="0.7" />
<circle cx="505.05" cy="217.3" r="0.5" fill="#000" stroke="none" stroke-width="1" />
<text x="509.15" y="215.9" font-family="Liberation Serif" font-size="12.5" text-anchor="start" stroke="#000" stroke-width="0.15" >]</text>
<text x="0" y="0" font-family="Liberation Sans" font-size="12" text-anchor="middle" stroke="#000" stroke-width="0.22" textLength="157" lengthAdjust="spacingAndGlyphs" transform="translate(336.9,95.2) rotate(-90)">IMF-weighted ejected mass</text>
<rect x="137.5" y="244.6" width="32.5" height="190.5" fill="#8080ff"/>
<line x1="137.5" y1="244.6" x2="137.5" y2="435.1" stroke="#000" stroke-width="1" stroke-opacity="0.45"/>
<line x1="170" y1="244.6" x2="170" y2="435.1" stroke="#000" stroke-width="1" stroke-opacity="0.3"/>
<line x1="51" y1="244.6" x2="51" y2="435.1" stroke="#000" stroke-width="1" stroke-opacity="0.66"/>
<line x1="70.5" y1="244.6" x2="70.5" y2="435.1" stroke="#000" stroke-width="1" stroke-opacity="0.66"/>
<line x1="92.5" y1="244.6" x2="92.5" y2="435.1" stroke="#000" stroke-width="1" stroke-opacity="0.66"/>
<line x1="109" y1="244.6" x2="109" y2="435.1" stroke="#000" stroke-width="1" stroke-opacity="0.66"/>
<line x1="197.5" y1="244.6" x2="197.5" y2="435.1" stroke="#000" stroke-width="1" stroke-opacity="0.66"/>
<line x1="214" y1="244.6" x2="214" y2="435.1" stroke="#000" stroke-width="1" stroke-opacity="0.66"/>
<line x1="229.5" y1="244.6" x2="229.5" y2="435.1" stroke="#000" stroke-width="1" stroke-opacity="0.66"/>
<line x1="255" y1="244.6" x2="255" y2="435.1" stroke="#000" stroke-width="1" stroke-opacity="0.66"/>
<polyline points="43.3,285.5 56,282.3 82.4,282.3 101.2,295.9 115.8,314.6 187.5,339.4 206.2,348.2 220.8,350.3 236.9,349.3 278,332.5" fill="none" stroke="#ff2a2a" stroke-width="1.1" />
<line x1="37.7" y1="285.5" x2="48.9" y2="285.5" stroke="#ffaaaa" stroke-width="1" />
<line x1="43.3" y1="279.7" x2="43.3" y2="291.3" stroke="#ffaaaa" stroke-width="1" />
<line x1="50.4" y1="282.3" x2="61.6" y2="282.3" stroke="#ffaaaa" stroke-width="1" />
<line x1="56" y1="276.5" x2="56" y2="288.1" stroke="#ffaaaa" stroke-width="1" />
<line x1="76.8" y1="282.3" x2="88" y2="282.3" stroke="#ffaaaa" stroke-width="1" />
<line x1="82.4" y1="276.5" x2="82.4" y2="288.1" stroke="#ffaaaa" stroke-width="1" />
<line x1="95.6" y1="295.9" x2="106.8" y2="295.9" stroke="#ffaaaa" stroke-width="1" />
<line x1="101.2" y1="290.1" x2="101.2" y2="301.7" stroke="#ffaaaa" stroke-width="1" />
<line x1="110.2" y1="314.6" x2="121.4" y2="314.6" stroke="#ffaaaa" stroke-width="1" />
<line x1="115.8" y1="308.8" x2="115.8" y2="320.4" stroke="#ffaaaa" stroke-width="1" />
<line x1="181.9" y1="339.4" x2="193.1" y2="339.4" stroke="#ffaaaa" stroke-width="1" />
<line x1="187.5" y1="333.6" x2="187.5" y2="345.2" stroke="#ffaaaa" stroke-width="1" />
<line x1="200.6" y1="348.2" x2="211.8" y2="348.2" stroke="#ffaaaa" stroke-width="1" />
<line x1="206.2" y1="342.4" x2="206.2" y2="354" stroke="#ffaaaa" stroke-width="1" />
<line x1="215.2" y1="350.3" x2="226.4" y2="350.3" stroke="#ffaaaa" stroke-width="1" />
<line x1="220.8" y1="344.5" x2="220.8" y2="356.1" stroke="#ffaaaa" stroke-width="1" />
<line x1="231.3" y1="349.3" x2="242.5" y2="349.3" stroke="#ffaaaa" stroke-width="1" />
<line x1="236.9" y1="343.5" x2="236.9" y2="355.1" stroke="#ffaaaa" stroke-width="1" />
<line x1="272.4" y1="332.5" x2="283.6" y2="332.5" stroke="#ffaaaa" stroke-width="1" />
<line x1="278" y1="326.7" x2="278" y2="338.3" stroke="#ffaaaa" stroke-width="1" />
<polyline points="43.5,279 56,282.1 82.4,285.8 91.5,290.7 101.2,296.3 109.3,304.4 117,311.4 185,312.8 196,318.5 206.2,327.2 220.8,334.4 278,334.6" fill="none" stroke="#000" stroke-width="3" stroke-dasharray="3.8,3.1" stroke-linejoin="round"/>
<polyline points="187.5,303 206.2,300.2 220.8,318.3 236.9,322.5 278,300.5" fill="none" stroke="#0000ff" stroke-width="1" />
<polyline points="220.8,317 236.9,320.4 278,301.5" fill="none" stroke="#0000ff" stroke-width="1" stroke-dasharray="4,2.5"/>
<polyline points="187.5,303.6 206.2,301.8" fill="none" stroke="#0a7d0a" stroke-width="1" />
<polyline points="236.9,298.4 278,300.5" fill="none" stroke="#0a7d0a" stroke-width="1" />
<polyline points="187.5,286.5 206.2,299.4" fill="none" stroke="#0a7d0a" stroke-width="1" stroke-dasharray="4,2.5"/>
<polyline points="236.9,297.8 278,300" fill="none" stroke="#0a7d0a" stroke-width="1" stroke-dasharray="4,2.5"/>
<circle cx="187.5" cy="303" r="5.5" fill="#0000ff" stroke="#0000a0" stroke-width="0.9" />
<circle cx="206.2" cy="300.2" r="5.5" fill="#0000ff" stroke="#0000a0" stroke-width="0.9" />
<circle cx="220.8" cy="318.3" r="5.5" fill="#0000ff" stroke="#0000a0" stroke-width="0.9" />
<circle cx="236.9" cy="322.5" r="5.5" fill="#0000ff" stroke="#0000a0" stroke-width="0.9" />
<circle cx="278" cy="300.5" r="5.5" fill="#0000ff" stroke="#0000a0" stroke-width="0.9" />
<circle cx="187.5" cy="303.6" r="5.5" fill="#0a7d0a" stroke="#055505" stroke-width="0.9" />
<circle cx="206.2" cy="301.8" r="5.5" fill="#0a7d0a" stroke="#055505" stroke-width="0.9" />
<circle cx="236.9" cy="298.4" r="5.5" fill="#0a7d0a" stroke="#055505" stroke-width="0.9" />
<circle cx="278" cy="300.5" r="5.5" fill="#0a7d0a" stroke="#055505" stroke-width="0.9" />
<polygon points="187.5,296 191.4,301.2 187.5,306.4 183.6,301.2" fill="#000"/>
<circle cx="220.8" cy="317" r="2.7" fill="#0000ff" stroke="#0000a0" stroke-width="0.8" />
<circle cx="236.9" cy="320.4" r="2.7" fill="#0000ff" stroke="#0000a0" stroke-width="0.8" />
<circle cx="278" cy="301.5" r="2.7" fill="#0000ff" stroke="#0000a0" stroke-width="0.8" />
<circle cx="187.5" cy="286.5" r="2.7" fill="#0a7d0a" stroke="#055505" stroke-width="0.8" />
<circle cx="206.2" cy="299.4" r="2.7" fill="#0a7d0a" stroke="#055505" stroke-width="0.8" />
<circle cx="236.9" cy="297.8" r="2.7" fill="#0a7d0a" stroke="#055505" stroke-width="0.8" />
<circle cx="278" cy="300" r="2.7" fill="#0a7d0a" stroke="#055505" stroke-width="0.8" />
<rect x="232.8" y="267.7" width="14.1" height="16.2" rx="1.2" fill="#fff" stroke="#6a6a6a" stroke-width="1.2"/>
<text x="239.85" y="279.4" font-family="Liberation Sans" font-size="12.2" text-anchor="middle" stroke="#000" stroke-width="0.15" >O</text>
<rect x="35.1" y="244.6" width="253.1" height="190.5" fill="none" stroke="#000" stroke-width="1"/>
<line x1="35.1" y1="435.1" x2="43.1" y2="435.1" stroke="#000" stroke-width="1" />
<line x1="280.2" y1="435.1" x2="288.2" y2="435.1" stroke="#000" stroke-width="1" />
<text x="24.85" y="438.6" font-family="Liberation Sans" font-size="9.5" text-anchor="end" stroke="#000" stroke-width="0.15" >10</text>
<text x="31.4" y="434" font-family="Liberation Sans" font-size="6.8" text-anchor="end" stroke="#000" stroke-width="0.15" >-7</text>
<line x1="35.1" y1="424.64" x2="39.1" y2="424.64" stroke="#000" stroke-width="1" />
<line x1="284.2" y1="424.64" x2="288.2" y2="424.64" stroke="#000" stroke-width="1" />
<line x1="35.1" y1="418.52" x2="39.1" y2="418.52" stroke="#000" stroke-width="1" />
<line x1="284.2" y1="418.52" x2="288.2" y2="418.52" stroke="#000" stroke-width="1" />
<line x1="35.1" y1="414.18" x2="39.1" y2="414.18" stroke="#000" stroke-width="1" />
<line x1="284.2" y1="414.18" x2="288.2" y2="414.18" stroke="#000" stroke-width="1" />
<line x1="35.1" y1="410.82" x2="39.1" y2="410.82" stroke="#000" stroke-width="1" />
<line x1="284.2" y1="410.82" x2="288.2" y2="410.82" stroke="#000" stroke-width="1" />
<line x1="35.1" y1="408.07" x2="39.1" y2="408.07" stroke="#000" stroke-width="1" />
<line x1="284.2" y1="408.07" x2="288.2" y2="408.07" stroke="#000" stroke-width="1" />
<line x1="35.1" y1="405.74" x2="39.1" y2="405.74" stroke="#000" stroke-width="1" />
<line x1="284.2" y1="405.74" x2="288.2" y2="405.74" stroke="#000" stroke-width="1" />
<line x1="35.1" y1="403.73" x2="39.1" y2="403.73" stroke="#000" stroke-width="1" />
<line x1="284.2" y1="403.73" x2="288.2" y2="403.73" stroke="#000" stroke-width="1" />
<line x1="35.1" y1="401.95" x2="39.1" y2="401.95" stroke="#000" stroke-width="1" />
<line x1="284.2" y1="401.95" x2="288.2" y2="401.95" stroke="#000" stroke-width="1" />
<line x1="35.1" y1="400.36" x2="43.1" y2="400.36" stroke="#000" stroke-width="1" />
<line x1="280.2" y1="400.36" x2="288.2" y2="400.36" stroke="#000" stroke-width="1" />
<text x="24.85" y="403.86" font-family="Liberation Sans" font-size="9.5" text-anchor="end" stroke="#000" stroke-width="0.15" >10</text>
<text x="31.4" y="399.26" font-family="Liberation Sans" font-size="6.8" text-anchor="end" stroke="#000" stroke-width="0.15" >-6</text>
<line x1="35.1" y1="389.9" x2="39.1" y2="389.9" stroke="#000" stroke-width="1" />
<line x1="284.2" y1="389.9" x2="288.2" y2="389.9" stroke="#000" stroke-width="1" />
<line x1="35.1" y1="383.78" x2="39.1" y2="383.78" stroke="#000" stroke-width="1" />
<line x1="284.2" y1="383.78" x2="288.2" y2="383.78" stroke="#000" stroke-width="1" />
<line x1="35.1" y1="379.44" x2="39.1" y2="379.44" stroke="#000" stroke-width="1" />
<line x1="284.2" y1="379.44" x2="288.2" y2="379.44" stroke="#000" stroke-width="1" />
<line x1="35.1" y1="376.08" x2="39.1" y2="376.08" stroke="#000" stroke-width="1" />
<line x1="284.2" y1="376.08" x2="288.2" y2="376.08" stroke="#000" stroke-width="1" />
<line x1="35.1" y1="373.33" x2="39.1" y2="373.33" stroke="#000" stroke-width="1" />
<line x1="284.2" y1="373.33" x2="288.2" y2="373.33" stroke="#000" stroke-width="1" />
<line x1="35.1" y1="371" x2="39.1" y2="371" stroke="#000" stroke-width="1" />
<line x1="284.2" y1="371" x2="288.2" y2="371" stroke="#000" stroke-width="1" />
<line x1="35.1" y1="368.99" x2="39.1" y2="368.99" stroke="#000" stroke-width="1" />
<line x1="284.2" y1="368.99" x2="288.2" y2="368.99" stroke="#000" stroke-width="1" />
<line x1="35.1" y1="367.21" x2="39.1" y2="367.21" stroke="#000" stroke-width="1" />
<line x1="284.2" y1="367.21" x2="288.2" y2="367.21" stroke="#000" stroke-width="1" />
<line x1="35.1" y1="365.62" x2="43.1" y2="365.62" stroke="#000" stroke-width="1" />
<line x1="280.2" y1="365.62" x2="288.2" y2="365.62" stroke="#000" stroke-width="1" />
<text x="24.85" y="369.12" font-family="Liberation Sans" font-size="9.5" text-anchor="end" stroke="#000" stroke-width="0.15" >10</text>
<text x="31.4" y="364.52" font-family="Liberation Sans" font-size="6.8" text-anchor="end" stroke="#000" stroke-width="0.15" >-5</text>
<line x1="35.1" y1="355.16" x2="39.1" y2="355.16" stroke="#000" stroke-width="1" />
<line x1="284.2" y1="355.16" x2="288.2" y2="355.16" stroke="#000" stroke-width="1" />
<line x1="35.1" y1="349.04" x2="39.1" y2="349.04" stroke="#000" stroke-width="1" />
<line x1="284.2" y1="349.04" x2="288.2" y2="349.04" stroke="#000" stroke-width="1" />
<line x1="35.1" y1="344.7" x2="39.1" y2="344.7" stroke="#000" stroke-width="1" />
<line x1="284.2" y1="344.7" x2="288.2" y2="344.7" stroke="#000" stroke-width="1" />
<line x1="35.1" y1="341.34" x2="39.1" y2="341.34" stroke="#000" stroke-width="1" />
<line x1="284.2" y1="341.34" x2="288.2" y2="341.34" stroke="#000" stroke-width="1" />
<line x1="35.1" y1="338.59" x2="39.1" y2="338.59" stroke="#000" stroke-width="1" />
<line x1="284.2" y1="338.59" x2="288.2" y2="338.59" stroke="#000" stroke-width="1" />
<line x1="35.1" y1="336.26" x2="39.1" y2="336.26" stroke="#000" stroke-width="1" />
<line x1="284.2" y1="336.26" x2="288.2" y2="336.26" stroke="#000" stroke-width="1" />
<line x1="35.1" y1="334.25" x2="39.1" y2="334.25" stroke="#000" stroke-width="1" />
<line x1="284.2" y1="334.25" x2="288.2" y2="334.25" stroke="#000" stroke-width="1" />
<line x1="35.1" y1="332.47" x2="39.1" y2="332.47" stroke="#000" stroke-width="1" />
<line x1="284.2" y1="332.47" x2="288.2" y2="332.47" stroke="#000" stroke-width="1" />
<line x1="35.1" y1="330.88" x2="43.1" y2="330.88" stroke="#000" stroke-width="1" />
<line x1="280.2" y1="330.88" x2="288.2" y2="330.88" stroke="#000" stroke-width="1" />
<text x="24.85" y="334.38" font-family="Liberation Sans" font-size="9.5" text-anchor="end" stroke="#000" stroke-width="0.15" >10</text>
<text x="31.4" y="329.78" font-family="Liberation Sans" font-size="6.8" text-anchor="end" stroke="#000" stroke-width="0.15" >-4</text>
<line x1="35.1" y1="320.42" x2="39.1" y2="320.42" stroke="#000" stroke-width="1" />
<line x1="284.2" y1="320.42" x2="288.2" y2="320.42" stroke="#000" stroke-width="1" />
<line x1="35.1" y1="314.3" x2="39.1" y2="314.3" stroke="#000" stroke-width="1" />
<line x1="284.2" y1="314.3" x2="288.2" y2="314.3" stroke="#000" stroke-width="1" />
<line x1="35.1" y1="309.96" x2="39.1" y2="309.96" stroke="#000" stroke-width="1" />
<line x1="284.2" y1="309.96" x2="288.2" y2="309.96" stroke="#000" stroke-width="1" />
<line x1="35.1" y1="306.6" x2="39.1" y2="306.6" stroke="#000" stroke-width="1" />
<line x1="284.2" y1="306.6" x2="288.2" y2="306.6" stroke="#000" stroke-width="1" />
<line x1="35.1" y1="303.85" x2="39.1" y2="303.85" stroke="#000" stroke-width="1" />
<line x1="284.2" y1="303.85" x2="288.2" y2="303.85" stroke="#000" stroke-width="1" />
<line x1="35.1" y1="301.52" x2="39.1" y2="301.52" stroke="#000" stroke-width="1" />
<line x1="284.2" y1="301.52" x2="288.2" y2="301.52" stroke="#000" stroke-width="1" />
<line x1="35.1" y1="299.51" x2="39.1" y2="299.51" stroke="#000" stroke-width="1" />
<line x1="284.2" y1="299.51" x2="288.2" y2="299.51" stroke="#000" stroke-width="1" />
<line x1="35.1" y1="297.73" x2="39.1" y2="297.73" stroke="#000" stroke-width="1" />
<line x1="284.2" y1="297.73" x2="288.2" y2="297.73" stroke="#000" stroke-width="1" />
<line x1="35.1" y1="296.14" x2="43.1" y2="296.14" stroke="#000" stroke-width="1" />
<line x1="280.2" y1="296.14" x2="288.2" y2="296.14" stroke="#000" stroke-width="1" />
<text x="24.85" y="299.64" font-family="Liberation Sans" font-size="9.5" text-anchor="end" stroke="#000" stroke-width="0.15" >10</text>
<text x="31.4" y="295.04" font-family="Liberation Sans" font-size="6.8" text-anchor="end" stroke="#000" stroke-width="0.15" >-3</text>
<line x1="35.1" y1="285.68" x2="39.1" y2="285.68" stroke="#000" stroke-width="1" />
<line x1="284.2" y1="285.68" x2="288.2" y2="285.68" stroke="#000" stroke-width="1" />
<line x1="35.1" y1="279.56" x2="39.1" y2="279.56" stroke="#000" stroke-width="1" />
<line x1="284.2" y1="279.56" x2="288.2" y2="279.56" stroke="#000" stroke-width="1" />
<line x1="35.1" y1="275.22" x2="39.1" y2="275.22" stroke="#000" stroke-width="1" />
<line x1="284.2" y1="275.22" x2="288.2" y2="275.22" stroke="#000" stroke-width="1" />
<line x1="35.1" y1="271.86" x2="39.1" y2="271.86" stroke="#000" stroke-width="1" />
<line x1="284.2" y1="271.86" x2="288.2" y2="271.86" stroke="#000" stroke-width="1" />
<line x1="35.1" y1="269.11" x2="39.1" y2="269.11" stroke="#000" stroke-width="1" />
<line x1="284.2" y1="269.11" x2="288.2" y2="269.11" stroke="#000" stroke-width="1" />
<line x1="35.1" y1="266.78" x2="39.1" y2="266.78" stroke="#000" stroke-width="1" />
<line x1="284.2" y1="266.78" x2="288.2" y2="266.78" stroke="#000" stroke-width="1" />
<line x1="35.1" y1="264.77" x2="39.1" y2="264.77" stroke="#000" stroke-width="1" />
<line x1="284.2" y1="264.77" x2="288.2" y2="264.77" stroke="#000" stroke-width="1" />
<line x1="35.1" y1="262.99" x2="39.1" y2="262.99" stroke="#000" stroke-width="1" />
<line x1="284.2" y1="262.99" x2="288.2" y2="262.99" stroke="#000" stroke-width="1" />
<line x1="35.1" y1="261.4" x2="43.1" y2="261.4" stroke="#000" stroke-width="1" />
<line x1="280.2" y1="261.4" x2="288.2" y2="261.4" stroke="#000" stroke-width="1" />
<text x="24.85" y="264.9" font-family="Liberation Sans" font-size="9.5" text-anchor="end" stroke="#000" stroke-width="0.15" >10</text>
<text x="31.4" y="260.3" font-family="Liberation Sans" font-size="6.8" text-anchor="end" stroke="#000" stroke-width="0.15" >-2</text>
<line x1="35.1" y1="250.94" x2="39.1" y2="250.94" stroke="#000" stroke-width="1" />
<line x1="284.2" y1="250.94" x2="288.2" y2="250.94" stroke="#000" stroke-width="1" />
<line x1="35.1" y1="244.82" x2="39.1" y2="244.82" stroke="#000" stroke-width="1" />
<line x1="284.2" y1="244.82" x2="288.2" y2="244.82" stroke="#000" stroke-width="1" />
<line x1="56.01" y1="435.1" x2="56.01" y2="431.1" stroke="#000" stroke-width="1" />
<line x1="56.01" y1="244.6" x2="56.01" y2="248.6" stroke="#000" stroke-width="1" />
<line x1="82.46" y1="435.1" x2="82.46" y2="431.1" stroke="#000" stroke-width="1" />
<line x1="82.46" y1="244.6" x2="82.46" y2="248.6" stroke="#000" stroke-width="1" />
<line x1="101.23" y1="435.1" x2="101.23" y2="431.1" stroke="#000" stroke-width="1" />
<line x1="101.23" y1="244.6" x2="101.23" y2="248.6" stroke="#000" stroke-width="1" />
<line x1="115.79" y1="435.1" x2="115.79" y2="431.1" stroke="#000" stroke-width="1" />
<line x1="115.79" y1="244.6" x2="115.79" y2="248.6" stroke="#000" stroke-width="1" />
<line x1="127.68" y1="435.1" x2="127.68" y2="431.1" stroke="#000" stroke-width="1" />
<line x1="127.68" y1="244.6" x2="127.68" y2="248.6" stroke="#000" stroke-width="1" />
<line x1="137.73" y1="435.1" x2="137.73" y2="431.1" stroke="#000" stroke-width="1" />
<line x1="137.73" y1="244.6" x2="137.73" y2="248.6" stroke="#000" stroke-width="1" />
<line x1="146.44" y1="435.1" x2="146.44" y2="431.1" stroke="#000" stroke-width="1" />
<line x1="146.44" y1="244.6" x2="146.44" y2="248.6" stroke="#000" stroke-width="1" />
<line x1="154.13" y1="435.1" x2="154.13" y2="431.1" stroke="#000" stroke-width="1" />
<line x1="154.13" y1="244.6" x2="154.13" y2="248.6" stroke="#000" stroke-width="1" />
<line x1="161" y1="435.1" x2="161" y2="427.1" stroke="#000" stroke-width="1" />
<line x1="161" y1="244.6" x2="161" y2="252.6" stroke="#000" stroke-width="1" />
<line x1="206.21" y1="435.1" x2="206.21" y2="431.1" stroke="#000" stroke-width="1" />
<line x1="206.21" y1="244.6" x2="206.21" y2="248.6" stroke="#000" stroke-width="1" />
<line x1="232.66" y1="435.1" x2="232.66" y2="431.1" stroke="#000" stroke-width="1" />
<line x1="232.66" y1="244.6" x2="232.66" y2="248.6" stroke="#000" stroke-width="1" />
<line x1="251.43" y1="435.1" x2="251.43" y2="431.1" stroke="#000" stroke-width="1" />
<line x1="251.43" y1="244.6" x2="251.43" y2="248.6" stroke="#000" stroke-width="1" />
<line x1="265.99" y1="435.1" x2="265.99" y2="431.1" stroke="#000" stroke-width="1" />
<line x1="265.99" y1="244.6" x2="265.99" y2="248.6" stroke="#000" stroke-width="1" />
<line x1="277.88" y1="435.1" x2="277.88" y2="431.1" stroke="#000" stroke-width="1" />
<line x1="277.88" y1="244.6" x2="277.88" y2="248.6" stroke="#000" stroke-width="1" />
<text x="159.4" y="446.2" font-family="Liberation Sans" font-size="9.5" text-anchor="middle" stroke="#000" stroke-width="0.15" >10</text>
<text x="166" y="441.4" font-family="Liberation Sans" font-size="6.8" text-anchor="middle" stroke="#000" stroke-width="0.15" >1</text>
<text x="141.25" y="459.3" font-family="Liberation Sans" font-size="10.6" text-anchor="start" stroke="#000" stroke-width="0.15" >M</text>
<text x="154.65" y="459.7" font-family="Liberation Serif" font-size="12.5" text-anchor="start" stroke="#000" stroke-width="0.15" >[</text>
<text x="158.05" y="459.3" font-family="Liberation Serif" font-size="11.9" text-anchor="start" stroke="#000" stroke-width="0.15" font-style="italic">M</text>
<circle cx="174.35" cy="461.1" r="2.3" fill="none" stroke="#000" stroke-width="0.7" />
<circle cx="174.35" cy="461.1" r="0.5" fill="#000" stroke="none" stroke-width="1" />
<text x="178.45" y="459.7" font-family="Liberation Serif" font-size="12.5" text-anchor="start" stroke="#000" stroke-width="0.15" >]</text>
<text x="0" y="0" font-family="Liberation Sans" font-size="12" text-anchor="middle" stroke="#000" stroke-width="0.22" textLength="157" lengthAdjust="spacingAndGlyphs" transform="translate(9.2,339.15) rotate(-90)">IMF-weighted ejected mass</text>
<rect x="468.2" y="244.5" width="32.5" height="190.6" fill="#8080ff"/>
<line x1="468.2" y1="244.5" x2="468.2" y2="435.1" stroke="#000" stroke-width="1" stroke-opacity="0.45"/>
<line x1="500.7" y1="244.5" x2="500.7" y2="435.1" stroke="#000" stroke-width="1" stroke-opacity="0.3"/>
<line x1="381.7" y1="244.5" x2="381.7" y2="435.1" stroke="#000" stroke-width="1" stroke-opacity="0.66"/>
<line x1="401.2" y1="244.5" x2="401.2" y2="435.1" stroke="#000" stroke-width="1" stroke-opacity="0.66"/>
<line x1="423.2" y1="244.5" x2="423.2" y2="435.1" stroke="#000" stroke-width="1" stroke-opacity="0.66"/>
<line x1="439.7" y1="244.5" x2="439.7" y2="435.1" stroke="#000" stroke-width="1" stroke-opacity="0.66"/>
<line x1="528.2" y1="244.5" x2="528.2" y2="435.1" stroke="#000" stroke-width="1" stroke-opacity="0.66"/>
<line x1="544.7" y1="244.5" x2="544.7" y2="435.1" stroke="#000" stroke-width="1" stroke-opacity="0.66"/>
<line x1="560.2" y1="244.5" x2="560.2" y2="435.1" stroke="#000" stroke-width="1" stroke-opacity="0.66"/>
<line x1="585.7" y1="244.5" x2="585.7" y2="435.1" stroke="#000" stroke-width="1" stroke-opacity="0.66"/>
<polyline points="373.9,285.4 386,277.9 413.1,273.1 431.7,298.3 446.2,314 518.2,334.4 536.9,341.3 551.5,343.8 567.6,343.8 608.7,324.6" fill="none" stroke="#ff2a2a" stroke-width="1.1" />
<line x1="368.3" y1="285.4" x2="379.5" y2="285.4" stroke="#ffaaaa" stroke-width="1" />
<line x1="373.9" y1="279.6" x2="373.9" y2="291.2" stroke="#ffaaaa" stroke-width="1" />
<line x1="380.4" y1="277.9" x2="391.6" y2="277.9" stroke="#ffaaaa" stroke-width="1" />
<line x1="386" y1="272.1" x2="386" y2="283.7" stroke="#ffaaaa" stroke-width="1" />
<line x1="407.5" y1="273.1" x2="418.7" y2="273.1" stroke="#ffaaaa" stroke-width="1" />
<line x1="413.1" y1="267.3" x2="413.1" y2="278.9" stroke="#ffaaaa" stroke-width="1" />
<line x1="426.1" y1="298.3" x2="437.3" y2="298.3" stroke="#ffaaaa" stroke-width="1" />
<line x1="431.7" y1="292.5" x2="431.7" y2="304.1" stroke="#ffaaaa" stroke-width="1" />
<line x1="440.6" y1="314" x2="451.8" y2="314" stroke="#ffaaaa" stroke-width="1" />
<line x1="446.2" y1="308.2" x2="446.2" y2="319.8" stroke="#ffaaaa" stroke-width="1" />
<line x1="512.6" y1="334.4" x2="523.8" y2="334.4" stroke="#ffaaaa" stroke-width="1" />
<line x1="518.2" y1="328.6" x2="518.2" y2="340.2" stroke="#ffaaaa" stroke-width="1" />
<line x1="531.3" y1="341.3" x2="542.5" y2="341.3" stroke="#ffaaaa" stroke-width="1" />
<line x1="536.9" y1="335.5" x2="536.9" y2="347.1" stroke="#ffaaaa" stroke-width="1" />
<line x1="545.9" y1="343.8" x2="557.1" y2="343.8" stroke="#ffaaaa" stroke-width="1" />
<line x1="551.5" y1="338" x2="551.5" y2="349.6" stroke="#ffaaaa" stroke-width="1" />
<line x1="562" y1="343.8" x2="573.2" y2="343.8" stroke="#ffaaaa" stroke-width="1" />
<line x1="567.6" y1="338" x2="567.6" y2="349.6" stroke="#ffaaaa" stroke-width="1" />
<line x1="603.1" y1="324.6" x2="614.3" y2="324.6" stroke="#ffaaaa" stroke-width="1" />
<line x1="608.7" y1="318.8" x2="608.7" y2="330.4" stroke="#ffaaaa" stroke-width="1" />
<polyline points="374.7,284.1 386,286.5 413.1,289.7 422.4,293.8 432.9,298.6 439.3,305.1 445.8,309.9 518.2,311.9 525.7,316.5 536.9,326 551.5,330.2 608.7,330.2" fill="none" stroke="#000" stroke-width="3" stroke-dasharray="3.8,3.1" stroke-linejoin="round"/>
<polyline points="536.9,335.4 551.5,335.3 567.6,347.7 608.7,406.5" fill="none" stroke="#0000ff" stroke-width="1" />
<polyline points="551.5,334.6 567.6,319.3 608.7,415" fill="none" stroke="#0000ff" stroke-width="1" stroke-dasharray="4,2.5"/>
<polyline points="518.2,306.4 536.9,335.4" fill="none" stroke="#0a7d0a" stroke-width="1" />
<polyline points="567.6,341.5 608.7,406.3" fill="none" stroke="#0a7d0a" stroke-width="1" />
<polyline points="518.2,320.8 536.9,333.5" fill="none" stroke="#0a7d0a" stroke-width="1" stroke-dasharray="4,2.5"/>
<polyline points="567.6,319.3 608.7,415" fill="none" stroke="#0a7d0a" stroke-width="1" stroke-dasharray="4,2.5"/>
<circle cx="536.9" cy="335.4" r="5.5" fill="#0000ff" stroke="#0000a0" stroke-width="0.9" />
<circle cx="551.5" cy="335.3" r="5.5" fill="#0000ff" stroke="#0000a0" stroke-width="0.9" />
<circle cx="567.6" cy="347.7" r="5.5" fill="#0000ff" stroke="#0000a0" stroke-width="0.9" />
<circle cx="608.7" cy="406.5" r="5.5" fill="#0000ff" stroke="#0000a0" stroke-width="0.9" />
<circle cx="518.2" cy="306.4" r="5.5" fill="#0a7d0a" stroke="#055505" stroke-width="0.9" />
<circle cx="536.9" cy="335.4" r="5.5" fill="#0a7d0a" stroke="#055505" stroke-width="0.9" />
<circle cx="567.6" cy="341.5" r="5.5" fill="#0a7d0a" stroke="#055505" stroke-width="0.9" />
<circle cx="608.7" cy="406.3" r="5.5" fill="#0a7d0a" stroke="#055505" stroke-width="0.9" />
<polygon points="518.2,301.4 522.1,306.6 518.2,311.8 514.3,306.6" fill="#000"/>
<circle cx="551.5" cy="334.6" r="2.7" fill="#0000ff" stroke="#0000a0" stroke-width="0.8" />
<circle cx="567.6" cy="319.3" r="2.7" fill="#0000ff" stroke="#0000a0" stroke-width="0.8" />
<circle cx="608.7" cy="415" r="2.7" fill="#0000ff" stroke="#0000a0" stroke-width="0.8" />
<circle cx="518.2" cy="320.8" r="2.7" fill="#0a7d0a" stroke="#055505" stroke-width="0.8" />
<circle cx="536.9" cy="333.5" r="2.7" fill="#0a7d0a" stroke="#055505" stroke-width="0.8" />
<circle cx="567.6" cy="319.3" r="2.7" fill="#0a7d0a" stroke="#055505" stroke-width="0.8" />
<circle cx="608.7" cy="415" r="2.7" fill="#0a7d0a" stroke="#055505" stroke-width="0.8" />
<rect x="563.7" y="261.8" width="11.9" height="16" rx="1.2" fill="#fff" stroke="#6a6a6a" stroke-width="1.2"/>
<text x="569.65" y="273.4" font-family="Liberation Sans" font-size="12.2" text-anchor="middle" stroke="#000" stroke-width="0.15" >F</text>
<rect x="365.8" y="244.5" width="253.1" height="190.6" fill="none" stroke="#000" stroke-width="1"/>
<line x1="365.8" y1="435.1" x2="373.8" y2="435.1" stroke="#000" stroke-width="1" />
<line x1="610.9" y1="435.1" x2="618.9" y2="435.1" stroke="#000" stroke-width="1" />
<text x="351.77" y="438.6" font-family="Liberation Sans" font-size="9.5" text-anchor="end" stroke="#000" stroke-width="0.15" >10</text>
<text x="362.1" y="434" font-family="Liberation Sans" font-size="6.8" text-anchor="end" stroke="#000" stroke-width="0.15" >-12</text>
<line x1="365.8" y1="426.45" x2="369.8" y2="426.45" stroke="#000" stroke-width="1" />
<line x1="614.9" y1="426.45" x2="618.9" y2="426.45" stroke="#000" stroke-width="1" />
<line x1="365.8" y1="421.38" x2="369.8" y2="421.38" stroke="#000" stroke-width="1" />
<line x1="614.9" y1="421.38" x2="618.9" y2="421.38" stroke="#000" stroke-width="1" />
<line x1="365.8" y1="417.79" x2="369.8" y2="417.79" stroke="#000" stroke-width="1" />
<line x1="614.9" y1="417.79" x2="618.9" y2="417.79" stroke="#000" stroke-width="1" />
<line x1="365.8" y1="415" x2="369.8" y2="415" stroke="#000" stroke-width="1" />
<line x1="614.9" y1="415" x2="618.9" y2="415" stroke="#000" stroke-width="1" />
<line x1="365.8" y1="412.73" x2="369.8" y2="412.73" stroke="#000" stroke-width="1" />
<line x1="614.9" y1="412.73" x2="618.9" y2="412.73" stroke="#000" stroke-width="1" />
<line x1="365.8" y1="410.8" x2="369.8" y2="410.8" stroke="#000" stroke-width="1" />
<line x1="614.9" y1="410.8" x2="618.9" y2="410.8" stroke="#000" stroke-width="1" />
<line x1="365.8" y1="409.14" x2="369.8" y2="409.14" stroke="#000" stroke-width="1" />
<line x1="614.9" y1="409.14" x2="618.9" y2="409.14" stroke="#000" stroke-width="1" />
<line x1="365.8" y1="407.67" x2="369.8" y2="407.67" stroke="#000" stroke-width="1" />
<line x1="614.9" y1="407.67" x2="618.9" y2="407.67" stroke="#000" stroke-width="1" />
<line x1="365.8" y1="406.35" x2="373.8" y2="406.35" stroke="#000" stroke-width="1" />
<line x1="610.9" y1="406.35" x2="618.9" y2="406.35" stroke="#000" stroke-width="1" />
<text x="351.77" y="409.85" font-family="Liberation Sans" font-size="9.5" text-anchor="end" stroke="#000" stroke-width="0.15" >10</text>
<text x="362.1" y="405.25" font-family="Liberation Sans" font-size="6.8" text-anchor="end" stroke="#000" stroke-width="0.15" >-11</text>
<line x1="365.8" y1="397.7" x2="369.8" y2="397.7" stroke="#000" stroke-width="1" />
<line x1="614.9" y1="397.7" x2="618.9" y2="397.7" stroke="#000" stroke-width="1" />
<line x1="365.8" y1="392.63" x2="369.8" y2="392.63" stroke="#000" stroke-width="1" />
<line x1="614.9" y1="392.63" x2="618.9" y2="392.63" stroke="#000" stroke-width="1" />
<line x1="365.8" y1="389.04" x2="369.8" y2="389.04" stroke="#000" stroke-width="1" />
<line x1="614.9" y1="389.04" x2="618.9" y2="389.04" stroke="#000" stroke-width="1" />
<line x1="365.8" y1="386.25" x2="369.8" y2="386.25" stroke="#000" stroke-width="1" />
<line x1="614.9" y1="386.25" x2="618.9" y2="386.25" stroke="#000" stroke-width="1" />
<line x1="365.8" y1="383.98" x2="369.8" y2="383.98" stroke="#000" stroke-width="1" />
<line x1="614.9" y1="383.98" x2="618.9" y2="383.98" stroke="#000" stroke-width="1" />
<line x1="365.8" y1="382.05" x2="369.8" y2="382.05" stroke="#000" stroke-width="1" />
<line x1="614.9" y1="382.05" x2="618.9" y2="382.05" stroke="#000" stroke-width="1" />
<line x1="365.8" y1="380.39" x2="369.8" y2="380.39" stroke="#000" stroke-width="1" />
<line x1="614.9" y1="380.39" x2="618.9" y2="380.39" stroke="#000" stroke-width="1" />
<line x1="365.8" y1="378.92" x2="369.8" y2="378.92" stroke="#000" stroke-width="1" />
<line x1="614.9" y1="378.92" x2="618.9" y2="378.92" stroke="#000" stroke-width="1" />
<line x1="365.8" y1="377.6" x2="373.8" y2="377.6" stroke="#000" stroke-width="1" />
<line x1="610.9" y1="377.6" x2="618.9" y2="377.6" stroke="#000" stroke-width="1" />
<text x="351.77" y="381.1" font-family="Liberation Sans" font-size="9.5" text-anchor="end" stroke="#000" stroke-width="0.15" >10</text>
<text x="362.1" y="376.5" font-family="Liberation Sans" font-size="6.8" text-anchor="end" stroke="#000" stroke-width="0.15" >-10</text>
<line x1="365.8" y1="368.95" x2="369.8" y2="368.95" stroke="#000" stroke-width="1" />
<line x1="614.9" y1="368.95" x2="618.9" y2="368.95" stroke="#000" stroke-width="1" />
<line x1="365.8" y1="363.88" x2="369.8" y2="363.88" stroke="#000" stroke-width="1" />
<line x1="614.9" y1="363.88" x2="618.9" y2="363.88" stroke="#000" stroke-width="1" />
<line x1="365.8" y1="360.29" x2="369.8" y2="360.29" stroke="#000" stroke-width="1" />
<line x1="614.9" y1="360.29" x2="618.9" y2="360.29" stroke="#000" stroke-width="1" />
<line x1="365.8" y1="357.5" x2="369.8" y2="357.5" stroke="#000" stroke-width="1" />
<line x1="614.9" y1="357.5" x2="618.9" y2="357.5" stroke="#000" stroke-width="1" />
<line x1="365.8" y1="355.23" x2="369.8" y2="355.23" stroke="#000" stroke-width="1" />
<line x1="614.9" y1="355.23" x2="618.9" y2="355.23" stroke="#000" stroke-width="1" />
<line x1="365.8" y1="353.3" x2="369.8" y2="353.3" stroke="#000" stroke-width="1" />
<line x1="614.9" y1="353.3" x2="618.9" y2="353.3" stroke="#000" stroke-width="1" />
<line x1="365.8" y1="351.64" x2="369.8" y2="351.64" stroke="#000" stroke-width="1" />
<line x1="614.9" y1="351.64" x2="618.9" y2="351.64" stroke="#000" stroke-width="1" />
<line x1="365.8" y1="350.17" x2="369.8" y2="350.17" stroke="#000" stroke-width="1" />
<line x1="614.9" y1="350.17" x2="618.9" y2="350.17" stroke="#000" stroke-width="1" />
<line x1="365.8" y1="348.85" x2="373.8" y2="348.85" stroke="#000" stroke-width="1" />
<line x1="610.9" y1="348.85" x2="618.9" y2="348.85" stroke="#000" stroke-width="1" />
<text x="355.55" y="352.35" font-family="Liberation Sans" font-size="9.5" text-anchor="end" stroke="#000" stroke-width="0.15" >10</text>
<text x="362.1" y="347.75" font-family="Liberation Sans" font-size="6.8" text-anchor="end" stroke="#000" stroke-width="0.15" >-9</text>
<line x1="365.8" y1="340.2" x2="369.8" y2="340.2" stroke="#000" stroke-width="1" />
<line x1="614.9" y1="340.2" x2="618.9" y2="340.2" stroke="#000" stroke-width="1" />
<line x1="365.8" y1="335.13" x2="369.8" y2="335.13" stroke="#000" stroke-width="1" />
<line x1="614.9" y1="335.13" x2="618.9" y2="335.13" stroke="#000" stroke-width="1" />
<line x1="365.8" y1="331.54" x2="369.8" y2="331.54" stroke="#000" stroke-width="1" />
<line x1="614.9" y1="331.54" x2="618.9" y2="331.54" stroke="#000" stroke-width="1" />
<line x1="365.8" y1="328.75" x2="369.8" y2="328.75" stroke="#000" stroke-width="1" />
<line x1="614.9" y1="328.75" x2="618.9" y2="328.75" stroke="#000" stroke-width="1" />
<line x1="365.8" y1="326.48" x2="369.8" y2="326.48" stroke="#000" stroke-width="1" />
<line x1="614.9" y1="326.48" x2="618.9" y2="326.48" stroke="#000" stroke-width="1" />
<line x1="365.8" y1="324.55" x2="369.8" y2="324.55" stroke="#000" stroke-width="1" />
<line x1="614.9" y1="324.55" x2="618.9" y2="324.55" stroke="#000" stroke-width="1" />
<line x1="365.8" y1="322.89" x2="369.8" y2="322.89" stroke="#000" stroke-width="1" />
<line x1="614.9" y1="322.89" x2="618.9" y2="322.89" stroke="#000" stroke-width="1" />
<line x1="365.8" y1="321.42" x2="369.8" y2="321.42" stroke="#000" stroke-width="1" />
<line x1="614.9" y1="321.42" x2="618.9" y2="321.42" stroke="#000" stroke-width="1" />
<line x1="365.8" y1="320.1" x2="373.8" y2="320.1" stroke="#000" stroke-width="1" />
<line x1="610.9" y1="320.1" x2="618.9" y2="320.1" stroke="#000" stroke-width="1" />
<text x="355.55" y="323.6" font-family="Liberation Sans" font-size="9.5" text-anchor="end" stroke="#000" stroke-width="0.15" >10</text>
<text x="362.1" y="319" font-family="Liberation Sans" font-size="6.8" text-anchor="end" stroke="#000" stroke-width="0.15" >-8</text>
<line x1="365.8" y1="311.45" x2="369.8" y2="311.45" stroke="#000" stroke-width="1" />
<line x1="614.9" y1="311.45" x2="618.9" y2="311.45" stroke="#000" stroke-width="1" />
<line x1="365.8" y1="306.38" x2="369.8" y2="306.38" stroke="#000" stroke-width="1" />
<line x1="614.9" y1="306.38" x2="618.9" y2="306.38" stroke="#000" stroke-width="1" />
<line x1="365.8" y1="302.79" x2="369.8" y2="302.79" stroke="#000" stroke-width="1" />
<line x1="614.9" y1="302.79" x2="618.9" y2="302.79" stroke="#000" stroke-width="1" />
<line x1="365.8" y1="300" x2="369.8" y2="300" stroke="#000" stroke-width="1" />
<line x1="614.9" y1="300" x2="618.9" y2="300" stroke="#000" stroke-width="1" />
<line x1="365.8" y1="297.73" x2="369.8" y2="297.73" stroke="#000" stroke-width="1" />
<line x1="614.9" y1="297.73" x2="618.9" y2="297.73" stroke="#000" stroke-width="1" />
<line x1="365.8" y1="295.8" x2="369.8" y2="295.8" stroke="#000" stroke-width="1" />
<line x1="614.9" y1="295.8" x2="618.9" y2="295.8" stroke="#000" stroke-width="1" />
<line x1="365.8" y1="294.14" x2="369.8" y2="294.14" stroke="#000" stroke-width="1" />
<line x1="614.9" y1="294.14" x2="618.9" y2="294.14" stroke="#000" stroke-width="1" />
<line x1="365.8" y1="292.67" x2="369.8" y2="292.67" stroke="#000" stroke-width="1" />
<line x1="614.9" y1="292.67" x2="618.9" y2="292.67" stroke="#000" stroke-width="1" />
<line x1="365.8" y1="291.35" x2="373.8" y2="291.35" stroke="#000" stroke-width="1" />
<line x1="610.9" y1="291.35" x2="618.9" y2="291.35" stroke="#000" stroke-width="1" />
<text x="355.55" y="294.85" font-family="Liberation Sans" font-size="9.5" text-anchor="end" stroke="#000" stroke-width="0.15" >10</text>
<text x="362.1" y="290.25" font-family="Liberation Sans" font-size="6.8" text-anchor="end" stroke="#000" stroke-width="0.15" >-7</text>
<line x1="365.8" y1="282.7" x2="369.8" y2="282.7" stroke="#000" stroke-width="1" />
<line x1="614.9" y1="282.7" x2="618.9" y2="282.7" stroke="#000" stroke-width="1" />
<line x1="365.8" y1="277.63" x2="369.8" y2="277.63" stroke="#000" stroke-width="1" />
<line x1="614.9" y1="277.63" x2="618.9" y2="277.63" stroke="#000" stroke-width="1" />
<line x1="365.8" y1="274.04" x2="369.8" y2="274.04" stroke="#000" stroke-width="1" />
<line x1="614.9" y1="274.04" x2="618.9" y2="274.04" stroke="#000" stroke-width="1" />
<line x1="365.8" y1="271.25" x2="369.8" y2="271.25" stroke="#000" stroke-width="1" />
<line x1="614.9" y1="271.25" x2="618.9" y2="271.25" stroke="#000" stroke-width="1" />
<line x1="365.8" y1="268.98" x2="369.8" y2="268.98" stroke="#000" stroke-width="1" />
<line x1="614.9" y1="268.98" x2="618.9" y2="268.98" stroke="#000" stroke-width="1" />
<line x1="365.8" y1="267.05" x2="369.8" y2="267.05" stroke="#000" stroke-width="1" />
<line x1="614.9" y1="267.05" x2="618.9" y2="267.05" stroke="#000" stroke-width="1" />
<line x1="365.8" y1="265.39" x2="369.8" y2="265.39" stroke="#000" stroke-width="1" />
<line x1="614.9" y1="265.39" x2="618.9" y2="265.39" stroke="#000" stroke-width="1" />
<line x1="365.8" y1="263.92" x2="369.8" y2="263.92" stroke="#000" stroke-width="1" />
<line x1="614.9" y1="263.92" x2="618.9" y2="263.92" stroke="#000" stroke-width="1" />
<line x1="365.8" y1="262.6" x2="373.8" y2="262.6" stroke="#000" stroke-width="1" />
<line x1="610.9" y1="262.6" x2="618.9" y2="262.6" stroke="#000" stroke-width="1" />
<text x="355.55" y="266.1" font-family="Liberation Sans" font-size="9.5" text-anchor="end" stroke="#000" stroke-width="0.15" >10</text>
<text x="362.1" y="261.5" font-family="Liberation Sans" font-size="6.8" text-anchor="end" stroke="#000" stroke-width="0.15" >-6</text>
<line x1="365.8" y1="253.95" x2="369.8" y2="253.95" stroke="#000" stroke-width="1" />
<line x1="614.9" y1="253.95" x2="618.9" y2="253.95" stroke="#000" stroke-width="1" />
<line x1="365.8" y1="248.88" x2="369.8" y2="248.88" stroke="#000" stroke-width="1" />
<line x1="614.9" y1="248.88" x2="618.9" y2="248.88" stroke="#000" stroke-width="1" />
<line x1="365.8" y1="245.29" x2="369.8" y2="245.29" stroke="#000" stroke-width="1" />
<line x1="614.9" y1="245.29" x2="618.9" y2="245.29" stroke="#000" stroke-width="1" />
<line x1="386.71" y1="435.1" x2="386.71" y2="431.1" stroke="#000" stroke-width="1" />
<line x1="386.71" y1="244.5" x2="386.71" y2="248.5" stroke="#000" stroke-width="1" />
<line x1="413.16" y1="435.1" x2="413.16" y2="431.1" stroke="#000" stroke-width="1" />
<line x1="413.16" y1="244.5" x2="413.16" y2="248.5" stroke="#000" stroke-width="1" />
<line x1="431.93" y1="435.1" x2="431.93" y2="431.1" stroke="#000" stroke-width="1" />
<line x1="431.93" y1="244.5" x2="431.93" y2="248.5" stroke="#000" stroke-width="1" />
<line x1="446.49" y1="435.1" x2="446.49" y2="431.1" stroke="#000" stroke-width="1" />
<line x1="446.49" y1="244.5" x2="446.49" y2="248.5" stroke="#000" stroke-width="1" />
<line x1="458.38" y1="435.1" x2="458.38" y2="431.1" stroke="#000" stroke-width="1" />
<line x1="458.38" y1="244.5" x2="458.38" y2="248.5" stroke="#000" stroke-width="1" />
<line x1="468.43" y1="435.1" x2="468.43" y2="431.1" stroke="#000" stroke-width="1" />
<line x1="468.43" y1="244.5" x2="468.43" y2="248.5" stroke="#000" stroke-width="1" />
<line x1="477.14" y1="435.1" x2="477.14" y2="431.1" stroke="#000" stroke-width="1" />
<line x1="477.14" y1="244.5" x2="477.14" y2="248.5" stroke="#000" stroke-width="1" />
<line x1="484.83" y1="435.1" x2="484.83" y2="431.1" stroke="#000" stroke-width="1" />
<line x1="484.83" y1="244.5" x2="484.83" y2="248.5" stroke="#000" stroke-width="1" />
<line x1="491.7" y1="435.1" x2="491.7" y2="427.1" stroke="#000" stroke-width="1" />
<line x1="491.7" y1="244.5" x2="491.7" y2="252.5" stroke="#000" stroke-width="1" />
<line x1="536.91" y1="435.1" x2="536.91" y2="431.1" stroke="#000" stroke-width="1" />
<line x1="536.91" y1="244.5" x2="536.91" y2="248.5" stroke="#000" stroke-width="1" />
<line x1="563.36" y1="435.1" x2="563.36" y2="431.1" stroke="#000" stroke-width="1" />
<line x1="563.36" y1="244.5" x2="563.36" y2="248.5" stroke="#000" stroke-width="1" />
<line x1="582.13" y1="435.1" x2="582.13" y2="431.1" stroke="#000" stroke-width="1" />
<line x1="582.13" y1="244.5" x2="582.13" y2="248.5" stroke="#000" stroke-width="1" />
<line x1="596.69" y1="435.1" x2="596.69" y2="431.1" stroke="#000" stroke-width="1" />
<line x1="596.69" y1="244.5" x2="596.69" y2="248.5" stroke="#000" stroke-width="1" />
<line x1="608.58" y1="435.1" x2="608.58" y2="431.1" stroke="#000" stroke-width="1" />
<line x1="608.58" y1="244.5" x2="608.58" y2="248.5" stroke="#000" stroke-width="1" />
<text x="490.1" y="446.2" font-family="Liberation Sans" font-size="9.5" text-anchor="middle" stroke="#000" stroke-width="0.15" >10</text>
<text x="496.7" y="441.4" font-family="Liberation Sans" font-size="6.8" text-anchor="middle" stroke="#000" stroke-width="0.15" >1</text>
<text x="471.95" y="459.3" font-family="Liberation Sans" font-size="10.6" text-anchor="start" stroke="#000" stroke-width="0.15" >M</text>
<text x="485.35" y="459.7" font-family="Liberation Serif" font-size="12.5" text-anchor="start" stroke="#000" stroke-width="0.15" >[</text>
<text x="488.75" y="459.3" font-family="Liberation Serif" font-size="11.9" text-anchor="start" stroke="#000" stroke-width="0.15" font-style="italic">M</text>
<circle cx="505.05" cy="461.1" r="2.3" fill="none" stroke="#000" stroke-width="0.7" />
<circle cx="505.05" cy="461.1" r="0.5" fill="#000" stroke="none" stroke-width="1" />
<text x="509.15" y="459.7" font-family="Liberation Serif" font-size="12.5" text-anchor="start" stroke="#000" stroke-width="0.15" >]</text>
<text x="0" y="0" font-family="Liberation Sans" font-size="12" text-anchor="middle" stroke="#000" stroke-width="0.22" textLength="157" lengthAdjust="spacingAndGlyphs" transform="translate(336.9,339.1) rotate(-90)">IMF-weighted ejected mass</text>
<rect x="137.5" y="488.2" width="32.5" height="191" fill="#8080ff"/>
<line x1="137.5" y1="488.2" x2="137.5" y2="679.2" stroke="#000" stroke-width="1" stroke-opacity="0.45"/>
<line x1="170" y1="488.2" x2="170" y2="679.2" stroke="#000" stroke-width="1" stroke-opacity="0.3"/>
<line x1="51" y1="488.2" x2="51" y2="679.2" stroke="#000" stroke-width="1" stroke-opacity="0.66"/>
<line x1="70.5" y1="488.2" x2="70.5" y2="679.2" stroke="#000" stroke-width="1" stroke-opacity="0.66"/>
<line x1="92.5" y1="488.2" x2="92.5" y2="679.2" stroke="#000" stroke-width="1" stroke-opacity="0.66"/>
<line x1="109" y1="488.2" x2="109" y2="679.2" stroke="#000" stroke-width="1" stroke-opacity="0.66"/>
<line x1="197.5" y1="488.2" x2="197.5" y2="679.2" stroke="#000" stroke-width="1" stroke-opacity="0.66"/>
<line x1="214" y1="488.2" x2="214" y2="679.2" stroke="#000" stroke-width="1" stroke-opacity="0.66"/>
<line x1="229.5" y1="488.2" x2="229.5" y2="679.2" stroke="#000" stroke-width="1" stroke-opacity="0.66"/>
<line x1="255" y1="488.2" x2="255" y2="679.2" stroke="#000" stroke-width="1" stroke-opacity="0.66"/>
<polyline points="43.3,559.9 56,556.2 82.4,553.9 101.2,573.9 115.8,596.2 187.5,648.3 206.2,661.1 220.8,654.1 236.9,634.3 278,615.9" fill="none" stroke="#ff2a2a" stroke-width="1.1" />
<line x1="37.7" y1="559.9" x2="48.9" y2="559.9" stroke="#ffaaaa" stroke-width="1" />
<line x1="43.3" y1="554.1" x2="43.3" y2="565.7" stroke="#ffaaaa" stroke-width="1" />
<line x1="50.4" y1="556.2" x2="61.6" y2="556.2" stroke="#ffaaaa" stroke-width="1" />
<line x1="56" y1="550.4" x2="56" y2="562" stroke="#ffaaaa" stroke-width="1" />
<line x1="76.8" y1="553.9" x2="88" y2="553.9" stroke="#ffaaaa" stroke-width="1" />
<line x1="82.4" y1="548.1" x2="82.4" y2="559.7" stroke="#ffaaaa" stroke-width="1" />
<line x1="95.6" y1="573.9" x2="106.8" y2="573.9" stroke="#ffaaaa" stroke-width="1" />
<line x1="101.2" y1="568.1" x2="101.2" y2="579.7" stroke="#ffaaaa" stroke-width="1" />
<line x1="110.2" y1="596.2" x2="121.4" y2="596.2" stroke="#ffaaaa" stroke-width="1" />
<line x1="115.8" y1="590.4" x2="115.8" y2="602" stroke="#ffaaaa" stroke-width="1" />
<line x1="181.9" y1="648.3" x2="193.1" y2="648.3" stroke="#ffaaaa" stroke-width="1" />
<line x1="187.5" y1="642.5" x2="187.5" y2="654.1" stroke="#ffaaaa" stroke-width="1" />
<line x1="200.6" y1="661.1" x2="211.8" y2="661.1" stroke="#ffaaaa" stroke-width="1" />
<line x1="206.2" y1="655.3" x2="206.2" y2="666.9" stroke="#ffaaaa" stroke-width="1" />
<line x1="215.2" y1="654.1" x2="226.4" y2="654.1" stroke="#ffaaaa" stroke-width="1" />
<line x1="220.8" y1="648.3" x2="220.8" y2="659.9" stroke="#ffaaaa" stroke-width="1" />
<line x1="231.3" y1="634.3" x2="242.5" y2="634.3" stroke="#ffaaaa" stroke-width="1" />
<line x1="236.9" y1="628.5" x2="236.9" y2="640.1" stroke="#ffaaaa" stroke-width="1" />
<line x1="272.4" y1="615.9" x2="283.6" y2="615.9" stroke="#ffaaaa" stroke-width="1" />
<line x1="278" y1="610.1" x2="278" y2="621.7" stroke="#ffaaaa" stroke-width="1" />
<polyline points="43.5,549.4 56,554.2 82.4,560.7 91.5,568.8 101.2,577.7 109.3,594.6 115.5,605.9 130,607.2 185,610 196,622 206.2,637.1 220.8,648.3 278,648.3" fill="none" stroke="#000" stroke-width="3" stroke-dasharray="3.8,3.1" stroke-linejoin="round"/>
<polyline points="187.5,593 206.2,611.5 220.8,607.6 236.9,656.7 278,586.6" fill="none" stroke="#0000ff" stroke-width="1" />
<polyline points="220.8,607 236.9,650 278,576" fill="none" stroke="#0000ff" stroke-width="1" stroke-dasharray="4,2.5"/>
<polyline points="187.5,592.9 206.2,615.1" fill="none" stroke="#0a7d0a" stroke-width="1" />
<polyline points="236.9,613.6 278,586.6" fill="none" stroke="#0a7d0a" stroke-width="1" />
<polyline points="187.5,563 206.2,606.5" fill="none" stroke="#0a7d0a" stroke-width="1" stroke-dasharray="4,2.5"/>
<polyline points="236.9,596.8 278,576" fill="none" stroke="#0a7d0a" stroke-width="1" stroke-dasharray="4,2.5"/>
<circle cx="187.5" cy="593" r="5.5" fill="#0000ff" stroke="#0000a0" stroke-width="0.9" />
<circle cx="206.2" cy="611.5" r="5.5" fill="#0000ff" stroke="#0000a0" stroke-width="0.9" />
<circle cx="220.8" cy="607.6" r="5.5" fill="#0000ff" stroke="#0000a0" stroke-width="0.9" />
<circle cx="236.9" cy="656.7" r="5.5" fill="#0000ff" stroke="#0000a0" stroke-width="0.9" />
<circle cx="278" cy="586.6" r="5.5" fill="#0000ff" stroke="#0000a0" stroke-width="0.9" />
<circle cx="187.5" cy="592.9" r="5.5" fill="#0a7d0a" stroke="#055505" stroke-width="0.9" />
<circle cx="206.2" cy="615.1" r="5.5" fill="#0a7d0a" stroke="#055505" stroke-width="0.9" />
<circle cx="236.9" cy="613.6" r="5.5" fill="#0a7d0a" stroke="#055505" stroke-width="0.9" />
<circle cx="278" cy="586.6" r="5.5" fill="#0a7d0a" stroke="#055505" stroke-width="0.9" />
<polygon points="187.5,587.7 191.4,592.9 187.5,598.1 183.6,592.9" fill="#000"/>
<circle cx="220.8" cy="607" r="2.7" fill="#0000ff" stroke="#0000a0" stroke-width="0.8" />
<circle cx="236.9" cy="650" r="2.7" fill="#0000ff" stroke="#0000a0" stroke-width="0.8" />
<circle cx="278" cy="576" r="2.7" fill="#0000ff" stroke="#0000a0" stroke-width="0.8" />
<circle cx="187.5" cy="563" r="2.7" fill="#0a7d0a" stroke="#055505" stroke-width="0.8" />
<circle cx="206.2" cy="606.5" r="2.7" fill="#0a7d0a" stroke="#055505" stroke-width="0.8" />
<circle cx="236.9" cy="596.8" r="2.7" fill="#0a7d0a" stroke="#055505" stroke-width="0.8" />
<circle cx="278" cy="576" r="2.7" fill="#0a7d0a" stroke="#055505" stroke-width="0.8" />
<rect x="233" y="538.4" width="19.4" height="15.7" rx="1.2" fill="#fff" stroke="#6a6a6a" stroke-width="1.2"/>
<text x="242.7" y="549.85" font-family="Liberation Sans" font-size="12.2" text-anchor="middle" stroke="#000" stroke-width="0.15" >Na</text>
<rect x="35.1" y="488.2" width="253.1" height="191" fill="none" stroke="#000" stroke-width="1"/>
<line x1="35.1" y1="679.21" x2="43.1" y2="679.21" stroke="#000" stroke-width="1" />
<line x1="280.2" y1="679.21" x2="288.2" y2="679.21" stroke="#000" stroke-width="1" />
<text x="24.85" y="682.71" font-family="Liberation Sans" font-size="9.5" text-anchor="end" stroke="#000" stroke-width="0.15" >10</text>
<text x="31.4" y="678.11" font-family="Liberation Sans" font-size="6.8" text-anchor="end" stroke="#000" stroke-width="0.15" >-7</text>
<line x1="35.1" y1="660.71" x2="39.1" y2="660.71" stroke="#000" stroke-width="1" />
<line x1="284.2" y1="660.71" x2="288.2" y2="660.71" stroke="#000" stroke-width="1" />
<line x1="35.1" y1="649.88" x2="39.1" y2="649.88" stroke="#000" stroke-width="1" />
<line x1="284.2" y1="649.88" x2="288.2" y2="649.88" stroke="#000" stroke-width="1" />
<line x1="35.1" y1="642.2" x2="39.1" y2="642.2" stroke="#000" stroke-width="1" />
<line x1="284.2" y1="642.2" x2="288.2" y2="642.2" stroke="#000" stroke-width="1" />
<line x1="35.1" y1="636.24" x2="39.1" y2="636.24" stroke="#000" stroke-width="1" />
<line x1="284.2" y1="636.24" x2="288.2" y2="636.24" stroke="#000" stroke-width="1" />
<line x1="35.1" y1="631.38" x2="39.1" y2="631.38" stroke="#000" stroke-width="1" />
<line x1="284.2" y1="631.38" x2="288.2" y2="631.38" stroke="#000" stroke-width="1" />
<line x1="35.1" y1="627.26" x2="39.1" y2="627.26" stroke="#000" stroke-width="1" />
<line x1="284.2" y1="627.26" x2="288.2" y2="627.26" stroke="#000" stroke-width="1" />
<line x1="35.1" y1="623.7" x2="39.1" y2="623.7" stroke="#000" stroke-width="1" />
<line x1="284.2" y1="623.7" x2="288.2" y2="623.7" stroke="#000" stroke-width="1" />
<line x1="35.1" y1="620.55" x2="39.1" y2="620.55" stroke="#000" stroke-width="1" />
<line x1="284.2" y1="620.55" x2="288.2" y2="620.55" stroke="#000" stroke-width="1" />
<line x1="35.1" y1="617.74" x2="43.1" y2="617.74" stroke="#000" stroke-width="1" />
<line x1="280.2" y1="617.74" x2="288.2" y2="617.74" stroke="#000" stroke-width="1" />
<text x="24.85" y="621.24" font-family="Liberation Sans" font-size="9.5" text-anchor="end" stroke="#000" stroke-width="0.15" >10</text>
<text x="31.4" y="616.64" font-family="Liberation Sans" font-size="6.8" text-anchor="end" stroke="#000" stroke-width="0.15" >-6</text>
<line x1="35.1" y1="599.24" x2="39.1" y2="599.24" stroke="#000" stroke-width="1" />
<line x1="284.2" y1="599.24" x2="288.2" y2="599.24" stroke="#000" stroke-width="1" />
<line x1="35.1" y1="588.41" x2="39.1" y2="588.41" stroke="#000" stroke-width="1" />
<line x1="284.2" y1="588.41" x2="288.2" y2="588.41" stroke="#000" stroke-width="1" />
<line x1="35.1" y1="580.73" x2="39.1" y2="580.73" stroke="#000" stroke-width="1" />
<line x1="284.2" y1="580.73" x2="288.2" y2="580.73" stroke="#000" stroke-width="1" />
<line x1="35.1" y1="574.77" x2="39.1" y2="574.77" stroke="#000" stroke-width="1" />
<line x1="284.2" y1="574.77" x2="288.2" y2="574.77" stroke="#000" stroke-width="1" />
<line x1="35.1" y1="569.91" x2="39.1" y2="569.91" stroke="#000" stroke-width="1" />
<line x1="284.2" y1="569.91" x2="288.2" y2="569.91" stroke="#000" stroke-width="1" />
<line x1="35.1" y1="565.79" x2="39.1" y2="565.79" stroke="#000" stroke-width="1" />
<line x1="284.2" y1="565.79" x2="288.2" y2="565.79" stroke="#000" stroke-width="1" />
<line x1="35.1" y1="562.23" x2="39.1" y2="562.23" stroke="#000" stroke-width="1" />
<line x1="284.2" y1="562.23" x2="288.2" y2="562.23" stroke="#000" stroke-width="1" />
<line x1="35.1" y1="559.08" x2="39.1" y2="559.08" stroke="#000" stroke-width="1" />
<line x1="284.2" y1="559.08" x2="288.2" y2="559.08" stroke="#000" stroke-width="1" />
<line x1="35.1" y1="556.27" x2="43.1" y2="556.27" stroke="#000" stroke-width="1" />
<line x1="280.2" y1="556.27" x2="288.2" y2="556.27" stroke="#000" stroke-width="1" />
<text x="24.85" y="559.77" font-family="Liberation Sans" font-size="9.5" text-anchor="end" stroke="#000" stroke-width="0.15" >10</text>
<text x="31.4" y="555.17" font-family="Liberation Sans" font-size="6.8" text-anchor="end" stroke="#000" stroke-width="0.15" >-5</text>
<line x1="35.1" y1="537.77" x2="39.1" y2="537.77" stroke="#000" stroke-width="1" />
<line x1="284.2" y1="537.77" x2="288.2" y2="537.77" stroke="#000" stroke-width="1" />
<line x1="35.1" y1="526.94" x2="39.1" y2="526.94" stroke="#000" stroke-width="1" />
<line x1="284.2" y1="526.94" x2="288.2" y2="526.94" stroke="#000" stroke-width="1" />
<line x1="35.1" y1="519.26" x2="39.1" y2="519.26" stroke="#000" stroke-width="1" />
<line x1="284.2" y1="519.26" x2="288.2" y2="519.26" stroke="#000" stroke-width="1" />
<line x1="35.1" y1="513.3" x2="39.1" y2="513.3" stroke="#000" stroke-width="1" />
<line x1="284.2" y1="513.3" x2="288.2" y2="513.3" stroke="#000" stroke-width="1" />
<line x1="35.1" y1="508.44" x2="39.1" y2="508.44" stroke="#000" stroke-width="1" />
<line x1="284.2" y1="508.44" x2="288.2" y2="508.44" stroke="#000" stroke-width="1" />
<line x1="35.1" y1="504.32" x2="39.1" y2="504.32" stroke="#000" stroke-width="1" />
<line x1="284.2" y1="504.32" x2="288.2" y2="504.32" stroke="#000" stroke-width="1" />
<line x1="35.1" y1="500.76" x2="39.1" y2="500.76" stroke="#000" stroke-width="1" />
<line x1="284.2" y1="500.76" x2="288.2" y2="500.76" stroke="#000" stroke-width="1" />
<line x1="35.1" y1="497.61" x2="39.1" y2="497.61" stroke="#000" stroke-width="1" />
<line x1="284.2" y1="497.61" x2="288.2" y2="497.61" stroke="#000" stroke-width="1" />
<line x1="35.1" y1="494.8" x2="43.1" y2="494.8" stroke="#000" stroke-width="1" />
<line x1="280.2" y1="494.8" x2="288.2" y2="494.8" stroke="#000" stroke-width="1" />
<text x="24.85" y="498.3" font-family="Liberation Sans" font-size="9.5" text-anchor="end" stroke="#000" stroke-width="0.15" >10</text>
<text x="31.4" y="493.7" font-family="Liberation Sans" font-size="6.8" text-anchor="end" stroke="#000" stroke-width="0.15" >-4</text>
<line x1="56.01" y1="679.2" x2="56.01" y2="675.2" stroke="#000" stroke-width="1" />
<line x1="56.01" y1="488.2" x2="56.01" y2="492.2" stroke="#000" stroke-width="1" />
<line x1="82.46" y1="679.2" x2="82.46" y2="675.2" stroke="#000" stroke-width="1" />
<line x1="82.46" y1="488.2" x2="82.46" y2="492.2" stroke="#000" stroke-width="1" />
<line x1="101.23" y1="679.2" x2="101.23" y2="675.2" stroke="#000" stroke-width="1" />
<line x1="101.23" y1="488.2" x2="101.23" y2="492.2" stroke="#000" stroke-width="1" />
<line x1="115.79" y1="679.2" x2="115.79" y2="675.2" stroke="#000" stroke-width="1" />
<line x1="115.79" y1="488.2" x2="115.79" y2="492.2" stroke="#000" stroke-width="1" />
<line x1="127.68" y1="679.2" x2="127.68" y2="675.2" stroke="#000" stroke-width="1" />
<line x1="127.68" y1="488.2" x2="127.68" y2="492.2" stroke="#000" stroke-width="1" />
<line x1="137.73" y1="679.2" x2="137.73" y2="675.2" stroke="#000" stroke-width="1" />
<line x1="137.73" y1="488.2" x2="137.73" y2="492.2" stroke="#000" stroke-width="1" />
<line x1="146.44" y1="679.2" x2="146.44" y2="675.2" stroke="#000" stroke-width="1" />
<line x1="146.44" y1="488.2" x2="146.44" y2="492.2" stroke="#000" stroke-width="1" />
<line x1="154.13" y1="679.2" x2="154.13" y2="675.2" stroke="#000" stroke-width="1" />
<line x1="154.13" y1="488.2" x2="154.13" y2="492.2" stroke="#000" stroke-width="1" />
<line x1="161" y1="679.2" x2="161" y2="671.2" stroke="#000" stroke-width="1" />
<line x1="161" y1="488.2" x2="161" y2="496.2" stroke="#000" stroke-width="1" />
<line x1="206.21" y1="679.2" x2="206.21" y2="675.2" stroke="#000" stroke-width="1" />
<line x1="206.21" y1="488.2" x2="206.21" y2="492.2" stroke="#000" stroke-width="1" />
<line x1="232.66" y1="679.2" x2="232.66" y2="675.2" stroke="#000" stroke-width="1" />
<line x1="232.66" y1="488.2" x2="232.66" y2="492.2" stroke="#000" stroke-width="1" />
<line x1="251.43" y1="679.2" x2="251.43" y2="675.2" stroke="#000" stroke-width="1" />
<line x1="251.43" y1="488.2" x2="251.43" y2="492.2" stroke="#000" stroke-width="1" />
<line x1="265.99" y1="679.2" x2="265.99" y2="675.2" stroke="#000" stroke-width="1" />
<line x1="265.99" y1="488.2" x2="265.99" y2="492.2" stroke="#000" stroke-width="1" />
<line x1="277.88" y1="679.2" x2="277.88" y2="675.2" stroke="#000" stroke-width="1" />
<line x1="277.88" y1="488.2" x2="277.88" y2="492.2" stroke="#000" stroke-width="1" />
<text x="159.4" y="690.3" font-family="Liberation Sans" font-size="9.5" text-anchor="middle" stroke="#000" stroke-width="0.15" >10</text>
<text x="166" y="685.5" font-family="Liberation Sans" font-size="6.8" text-anchor="middle" stroke="#000" stroke-width="0.15" >1</text>
<text x="141.25" y="703.4" font-family="Liberation Sans" font-size="10.6" text-anchor="start" stroke="#000" stroke-width="0.15" >M</text>
<text x="154.65" y="703.8" font-family="Liberation Serif" font-size="12.5" text-anchor="start" stroke="#000" stroke-width="0.15" >[</text>
<text x="158.05" y="703.4" font-family="Liberation Serif" font-size="11.9" text-anchor="start" stroke="#000" stroke-width="0.15" font-style="italic">M</text>
<circle cx="174.35" cy="705.2" r="2.3" fill="none" stroke="#000" stroke-width="0.7" />
<circle cx="174.35" cy="705.2" r="0.5" fill="#000" stroke="none" stroke-width="1" />
<text x="178.45" y="703.8" font-family="Liberation Serif" font-size="12.5" text-anchor="start" stroke="#000" stroke-width="0.15" >]</text>
<text x="0" y="0" font-family="Liberation Sans" font-size="12" text-anchor="middle" stroke="#000" stroke-width="0.22" textLength="157" lengthAdjust="spacingAndGlyphs" transform="translate(9.2,583) rotate(-90)">IMF-weighted ejected mass</text>
<rect x="468.2" y="488.7" width="32.5" height="190.5" fill="#8080ff"/>
<line x1="468.2" y1="488.7" x2="468.2" y2="679.2" stroke="#000" stroke-width="1" stroke-opacity="0.45"/>
<line x1="500.7" y1="488.7" x2="500.7" y2="679.2" stroke="#000" stroke-width="1" stroke-opacity="0.3"/>
<line x1="381.7" y1="488.7" x2="381.7" y2="679.2" stroke="#000" stroke-width="1" stroke-opacity="0.66"/>
<line x1="401.2" y1="488.7" x2="401.2" y2="679.2" stroke="#000" stroke-width="1" stroke-opacity="0.66"/>
<line x1="423.2" y1="488.7" x2="423.2" y2="679.2" stroke="#000" stroke-width="1" stroke-opacity="0.66"/>
<line x1="439.7" y1="488.7" x2="439.7" y2="679.2" stroke="#000" stroke-width="1" stroke-opacity="0.66"/>
<line x1="528.2" y1="488.7" x2="528.2" y2="679.2" stroke="#000" stroke-width="1" stroke-opacity="0.66"/>
<line x1="544.7" y1="488.7" x2="544.7" y2="679.2" stroke="#000" stroke-width="1" stroke-opacity="0.66"/>
<line x1="560.2" y1="488.7" x2="560.2" y2="679.2" stroke="#000" stroke-width="1" stroke-opacity="0.66"/>
<line x1="585.7" y1="488.7" x2="585.7" y2="679.2" stroke="#000" stroke-width="1" stroke-opacity="0.66"/>
<polyline points="373.9,557.8 386,559.9 413.1,562.1 431.2,577.5 445.8,601.9 518.2,643.9 536.9,658.4 551.5,658.4 567.6,650.5 608.7,643.5" fill="none" stroke="#ff2a2a" stroke-width="1.1" />
<line x1="368.3" y1="557.8" x2="379.5" y2="557.8" stroke="#ffaaaa" stroke-width="1" />
<line x1="373.9" y1="552" x2="373.9" y2="563.6" stroke="#ffaaaa" stroke-width="1" />
<line x1="380.4" y1="559.9" x2="391.6" y2="559.9" stroke="#ffaaaa" stroke-width="1" />
<line x1="386" y1="554.1" x2="386" y2="565.7" stroke="#ffaaaa" stroke-width="1" />
<line x1="407.5" y1="562.1" x2="418.7" y2="562.1" stroke="#ffaaaa" stroke-width="1" />
<line x1="413.1" y1="556.3" x2="413.1" y2="567.9" stroke="#ffaaaa" stroke-width="1" />
<line x1="425.6" y1="577.5" x2="436.8" y2="577.5" stroke="#ffaaaa" stroke-width="1" />
<line x1="431.2" y1="571.7" x2="431.2" y2="583.3" stroke="#ffaaaa" stroke-width="1" />
<line x1="440.2" y1="601.9" x2="451.4" y2="601.9" stroke="#ffaaaa" stroke-width="1" />
<line x1="445.8" y1="596.1" x2="445.8" y2="607.7" stroke="#ffaaaa" stroke-width="1" />
<line x1="512.6" y1="643.9" x2="523.8" y2="643.9" stroke="#ffaaaa" stroke-width="1" />
<line x1="518.2" y1="638.1" x2="518.2" y2="649.7" stroke="#ffaaaa" stroke-width="1" />
<line x1="531.3" y1="658.4" x2="542.5" y2="658.4" stroke="#ffaaaa" stroke-width="1" />
<line x1="536.9" y1="652.6" x2="536.9" y2="664.2" stroke="#ffaaaa" stroke-width="1" />
<line x1="545.9" y1="658.4" x2="557.1" y2="658.4" stroke="#ffaaaa" stroke-width="1" />
<line x1="551.5" y1="652.6" x2="551.5" y2="664.2" stroke="#ffaaaa" stroke-width="1" />
<line x1="562" y1="650.5" x2="573.2" y2="650.5" stroke="#ffaaaa" stroke-width="1" />
<line x1="567.6" y1="644.7" x2="567.6" y2="656.3" stroke="#ffaaaa" stroke-width="1" />
<line x1="603.1" y1="643.5" x2="614.3" y2="643.5" stroke="#ffaaaa" stroke-width="1" />
<line x1="608.7" y1="637.7" x2="608.7" y2="649.3" stroke="#ffaaaa" stroke-width="1" />
<polyline points="374.7,545.7 386,550 413.1,556.2 422.4,565.8 432.9,576.8 440.1,588.5 446.6,598.6 464.7,599.8 518.2,601.7 525.7,607 536.9,614.9 551.5,637.2 608.7,638.6" fill="none" stroke="#000" stroke-width="3" stroke-dasharray="3.8,3.1" stroke-linejoin="round"/>
<polyline points="518.2,600.7 536.9,600.8 551.5,628.2 567.6,633.5 608.7,594.3" fill="none" stroke="#0000ff" stroke-width="1" />
<polyline points="536.9,587 551.5,639.3 567.6,671.7 608.7,594.3" fill="none" stroke="#0000ff" stroke-width="1" stroke-dasharray="4,2.5"/>
<polyline points="518.2,600.5 536.9,604.7" fill="none" stroke="#0a7d0a" stroke-width="1" />
<polyline points="567.6,592.2 608.7,594.3" fill="none" stroke="#0a7d0a" stroke-width="1" />
<polyline points="518.2,570.3 536.9,587" fill="none" stroke="#0a7d0a" stroke-width="1" stroke-dasharray="4,2.5"/>
<polyline points="567.6,591.6 608.7,593.8" fill="none" stroke="#0a7d0a" stroke-width="1" stroke-dasharray="4,2.5"/>
<circle cx="518.2" cy="600.7" r="5.5" fill="#0000ff" stroke="#0000a0" stroke-width="0.9" />
<circle cx="536.9" cy="600.8" r="5.5" fill="#0000ff" stroke="#0000a0" stroke-width="0.9" />
<circle cx="551.5" cy="628.2" r="5.5" fill="#0000ff" stroke="#0000a0" stroke-width="0.9" />
<circle cx="567.6" cy="633.5" r="5.5" fill="#0000ff" stroke="#0000a0" stroke-width="0.9" />
<circle cx="608.7" cy="594.3" r="5.5" fill="#0000ff" stroke="#0000a0" stroke-width="0.9" />
<circle cx="518.2" cy="600.5" r="5.5" fill="#0a7d0a" stroke="#055505" stroke-width="0.9" />
<circle cx="536.9" cy="604.7" r="5.5" fill="#0a7d0a" stroke="#055505" stroke-width="0.9" />
<circle cx="567.6" cy="592.2" r="5.5" fill="#0a7d0a" stroke="#055505" stroke-width="0.9" />
<circle cx="608.7" cy="594.3" r="5.5" fill="#0a7d0a" stroke="#055505" stroke-width="0.9" />
<polygon points="518.2,593.8 522.1,599 518.2,604.2 514.3,599" fill="#000"/>
<circle cx="536.9" cy="587" r="2.7" fill="#0000ff" stroke="#0000a0" stroke-width="0.8" />
<circle cx="551.5" cy="639.3" r="2.7" fill="#0000ff" stroke="#0000a0" stroke-width="0.8" />
<circle cx="567.6" cy="671.7" r="2.7" fill="#0000ff" stroke="#0000a0" stroke-width="0.8" />
<circle cx="608.7" cy="594.3" r="2.7" fill="#0000ff" stroke="#0000a0" stroke-width="0.8" />
<circle cx="518.2" cy="570.3" r="2.7" fill="#0a7d0a" stroke="#055505" stroke-width="0.8" />
<circle cx="536.9" cy="587" r="2.7" fill="#0a7d0a" stroke="#055505" stroke-width="0.8" />
<circle cx="567.6" cy="591.6" r="2.7" fill="#0a7d0a" stroke="#055505" stroke-width="0.8" />
<circle cx="608.7" cy="593.8" r="2.7" fill="#0a7d0a" stroke="#055505" stroke-width="0.8" />
<rect x="563.9" y="534.1" width="15.3" height="16.4" rx="1.2" fill="#fff" stroke="#6a6a6a" stroke-width="1.2"/>
<text x="571.55" y="545.9" font-family="Liberation Sans" font-size="12.2" text-anchor="middle" stroke="#000" stroke-width="0.15" >Al</text>
<rect x="365.8" y="488.7" width="253.1" height="190.5" fill="none" stroke="#000" stroke-width="1"/>
<line x1="365.8" y1="679.2" x2="373.8" y2="679.2" stroke="#000" stroke-width="1" />
<line x1="610.9" y1="679.2" x2="618.9" y2="679.2" stroke="#000" stroke-width="1" />
<text x="355.55" y="682.7" font-family="Liberation Sans" font-size="9.5" text-anchor="end" stroke="#000" stroke-width="0.15" >10</text>
<text x="362.1" y="678.1" font-family="Liberation Sans" font-size="6.8" text-anchor="end" stroke="#000" stroke-width="0.15" >-7</text>
<line x1="365.8" y1="661.83" x2="369.8" y2="661.83" stroke="#000" stroke-width="1" />
<line x1="614.9" y1="661.83" x2="618.9" y2="661.83" stroke="#000" stroke-width="1" />
<line x1="365.8" y1="651.67" x2="369.8" y2="651.67" stroke="#000" stroke-width="1" />
<line x1="614.9" y1="651.67" x2="618.9" y2="651.67" stroke="#000" stroke-width="1" />
<line x1="365.8" y1="644.46" x2="369.8" y2="644.46" stroke="#000" stroke-width="1" />
<line x1="614.9" y1="644.46" x2="618.9" y2="644.46" stroke="#000" stroke-width="1" />
<line x1="365.8" y1="638.87" x2="369.8" y2="638.87" stroke="#000" stroke-width="1" />
<line x1="614.9" y1="638.87" x2="618.9" y2="638.87" stroke="#000" stroke-width="1" />
<line x1="365.8" y1="634.3" x2="369.8" y2="634.3" stroke="#000" stroke-width="1" />
<line x1="614.9" y1="634.3" x2="618.9" y2="634.3" stroke="#000" stroke-width="1" />
<line x1="365.8" y1="630.44" x2="369.8" y2="630.44" stroke="#000" stroke-width="1" />
<line x1="614.9" y1="630.44" x2="618.9" y2="630.44" stroke="#000" stroke-width="1" />
<line x1="365.8" y1="627.09" x2="369.8" y2="627.09" stroke="#000" stroke-width="1" />
<line x1="614.9" y1="627.09" x2="618.9" y2="627.09" stroke="#000" stroke-width="1" />
<line x1="365.8" y1="624.14" x2="369.8" y2="624.14" stroke="#000" stroke-width="1" />
<line x1="614.9" y1="624.14" x2="618.9" y2="624.14" stroke="#000" stroke-width="1" />
<line x1="365.8" y1="621.5" x2="373.8" y2="621.5" stroke="#000" stroke-width="1" />
<line x1="610.9" y1="621.5" x2="618.9" y2="621.5" stroke="#000" stroke-width="1" />
<text x="355.55" y="625" font-family="Liberation Sans" font-size="9.5" text-anchor="end" stroke="#000" stroke-width="0.15" >10</text>
<text x="362.1" y="620.4" font-family="Liberation Sans" font-size="6.8" text-anchor="end" stroke="#000" stroke-width="0.15" >-6</text>
<line x1="365.8" y1="604.13" x2="369.8" y2="604.13" stroke="#000" stroke-width="1" />
<line x1="614.9" y1="604.13" x2="618.9" y2="604.13" stroke="#000" stroke-width="1" />
<line x1="365.8" y1="593.97" x2="369.8" y2="593.97" stroke="#000" stroke-width="1" />
<line x1="614.9" y1="593.97" x2="618.9" y2="593.97" stroke="#000" stroke-width="1" />
<line x1="365.8" y1="586.76" x2="369.8" y2="586.76" stroke="#000" stroke-width="1" />
<line x1="614.9" y1="586.76" x2="618.9" y2="586.76" stroke="#000" stroke-width="1" />
<line x1="365.8" y1="581.17" x2="369.8" y2="581.17" stroke="#000" stroke-width="1" />
<line x1="614.9" y1="581.17" x2="618.9" y2="581.17" stroke="#000" stroke-width="1" />
<line x1="365.8" y1="576.6" x2="369.8" y2="576.6" stroke="#000" stroke-width="1" />
<line x1="614.9" y1="576.6" x2="618.9" y2="576.6" stroke="#000" stroke-width="1" />
<line x1="365.8" y1="572.74" x2="369.8" y2="572.74" stroke="#000" stroke-width="1" />
<line x1="614.9" y1="572.74" x2="618.9" y2="572.74" stroke="#000" stroke-width="1" />
<line x1="365.8" y1="569.39" x2="369.8" y2="569.39" stroke="#000" stroke-width="1" />
<line x1="614.9" y1="569.39" x2="618.9" y2="569.39" stroke="#000" stroke-width="1" />
<line x1="365.8" y1="566.44" x2="369.8" y2="566.44" stroke="#000" stroke-width="1" />
<line x1="614.9" y1="566.44" x2="618.9" y2="566.44" stroke="#000" stroke-width="1" />
<line x1="365.8" y1="563.8" x2="373.8" y2="563.8" stroke="#000" stroke-width="1" />
<line x1="610.9" y1="563.8" x2="618.9" y2="563.8" stroke="#000" stroke-width="1" />
<text x="355.55" y="567.3" font-family="Liberation Sans" font-size="9.5" text-anchor="end" stroke="#000" stroke-width="0.15" >10</text>
<text x="362.1" y="562.7" font-family="Liberation Sans" font-size="6.8" text-anchor="end" stroke="#000" stroke-width="0.15" >-5</text>
<line x1="365.8" y1="546.43" x2="369.8" y2="546.43" stroke="#000" stroke-width="1" />
<line x1="614.9" y1="546.43" x2="618.9" y2="546.43" stroke="#000" stroke-width="1" />
<line x1="365.8" y1="536.27" x2="369.8" y2="536.27" stroke="#000" stroke-width="1" />
<line x1="614.9" y1="536.27" x2="618.9" y2="536.27" stroke="#000" stroke-width="1" />
<line x1="365.8" y1="529.06" x2="369.8" y2="529.06" stroke="#000" stroke-width="1" />
<line x1="614.9" y1="529.06" x2="618.9" y2="529.06" stroke="#000" stroke-width="1" />
<line x1="365.8" y1="523.47" x2="369.8" y2="523.47" stroke="#000" stroke-width="1" />
<line x1="614.9" y1="523.47" x2="618.9" y2="523.47" stroke="#000" stroke-width="1" />
<line x1="365.8" y1="518.9" x2="369.8" y2="518.9" stroke="#000" stroke-width="1" />
<line x1="614.9" y1="518.9" x2="618.9" y2="518.9" stroke="#000" stroke-width="1" />
<line x1="365.8" y1="515.04" x2="369.8" y2="515.04" stroke="#000" stroke-width="1" />
<line x1="614.9" y1="515.04" x2="618.9" y2="515.04" stroke="#000" stroke-width="1" />
<line x1="365.8" y1="511.69" x2="369.8" y2="511.69" stroke="#000" stroke-width="1" />
<line x1="614.9" y1="511.69" x2="618.9" y2="511.69" stroke="#000" stroke-width="1" />
<line x1="365.8" y1="508.74" x2="369.8" y2="508.74" stroke="#000" stroke-width="1" />
<line x1="614.9" y1="508.74" x2="618.9" y2="508.74" stroke="#000" stroke-width="1" />
<line x1="365.8" y1="506.1" x2="373.8" y2="506.1" stroke="#000" stroke-width="1" />
<line x1="610.9" y1="506.1" x2="618.9" y2="506.1" stroke="#000" stroke-width="1" />
<text x="355.55" y="509.6" font-family="Liberation Sans" font-size="9.5" text-anchor="end" stroke="#000" stroke-width="0.15" >10</text>
<text x="362.1" y="505" font-family="Liberation Sans" font-size="6.8" text-anchor="end" stroke="#000" stroke-width="0.15" >-4</text>
<line x1="365.8" y1="488.73" x2="369.8" y2="488.73" stroke="#000" stroke-width="1" />
<line x1="614.9" y1="488.73" x2="618.9" y2="488.73" stroke="#000" stroke-width="1" />
<line x1="386.71" y1="679.2" x2="386.71" y2="675.2" stroke="#000" stroke-width="1" />
<line x1="386.71" y1="488.7" x2="386.71" y2="492.7" stroke="#000" stroke-width="1" />
<line x1="413.16" y1="679.2" x2="413.16" y2="675.2" stroke="#000" stroke-width="1" />
<line x1="413.16" y1="488.7" x2="413.16" y2="492.7" stroke="#000" stroke-width="1" />
<line x1="431.93" y1="679.2" x2="431.93" y2="675.2" stroke="#000" stroke-width="1" />
<line x1="431.93" y1="488.7" x2="431.93" y2="492.7" stroke="#000" stroke-width="1" />
<line x1="446.49" y1="679.2" x2="446.49" y2="675.2" stroke="#000" stroke-width="1" />
<line x1="446.49" y1="488.7" x2="446.49" y2="492.7" stroke="#000" stroke-width="1" />
<line x1="458.38" y1="679.2" x2="458.38" y2="675.2" stroke="#000" stroke-width="1" />
<line x1="458.38" y1="488.7" x2="458.38" y2="492.7" stroke="#000" stroke-width="1" />
<line x1="468.43" y1="679.2" x2="468.43" y2="675.2" stroke="#000" stroke-width="1" />
<line x1="468.43" y1="488.7" x2="468.43" y2="492.7" stroke="#000" stroke-width="1" />
<line x1="477.14" y1="679.2" x2="477.14" y2="675.2" stroke="#000" stroke-width="1" />
<line x1="477.14" y1="488.7" x2="477.14" y2="492.7" stroke="#000" stroke-width="1" />
<line x1="484.83" y1="679.2" x2="484.83" y2="675.2" stroke="#000" stroke-width="1" />
<line x1="484.83" y1="488.7" x2="484.83" y2="492.7" stroke="#000" stroke-width="1" />
<line x1="491.7" y1="679.2" x2="491.7" y2="671.2" stroke="#000" stroke-width="1" />
<line x1="491.7" y1="488.7" x2="491.7" y2="496.7" stroke="#000" stroke-width="1" />
<line x1="536.91" y1="679.2" x2="536.91" y2="675.2" stroke="#000" stroke-width="1" />
<line x1="536.91" y1="488.7" x2="536.91" y2="492.7" stroke="#000" stroke-width="1" />
<line x1="563.36" y1="679.2" x2="563.36" y2="675.2" stroke="#000" stroke-width="1" />
<line x1="563.36" y1="488.7" x2="563.36" y2="492.7" stroke="#000" stroke-width="1" />
<line x1="582.13" y1="679.2" x2="582.13" y2="675.2" stroke="#000" stroke-width="1" />
<line x1="582.13" y1="488.7" x2="582.13" y2="492.7" stroke="#000" stroke-width="1" />
<line x1="596.69" y1="679.2" x2="596.69" y2="675.2" stroke="#000" stroke-width="1" />
<line x1="596.69" y1="488.7" x2="596.69" y2="492.7" stroke="#000" stroke-width="1" />
<line x1="608.58" y1="679.2" x2="608.58" y2="675.2" stroke="#000" stroke-width="1" />
<line x1="608.58" y1="488.7" x2="608.58" y2="492.7" stroke="#000" stroke-width="1" />
<text x="490.1" y="690.3" font-family="Liberation Sans" font-size="9.5" text-anchor="middle" stroke="#000" stroke-width="0.15" >10</text>
<text x="496.7" y="685.5" font-family="Liberation Sans" font-size="6.8" text-anchor="middle" stroke="#000" stroke-width="0.15" >1</text>
<text x="471.95" y="703.4" font-family="Liberation Sans" font-size="10.6" text-anchor="start" stroke="#000" stroke-width="0.15" >M</text>
<text x="485.35" y="703.8" font-family="Liberation Serif" font-size="12.5" text-anchor="start" stroke="#000" stroke-width="0.15" >[</text>
<text x="488.75" y="703.4" font-family="Liberation Serif" font-size="11.9" text-anchor="start" stroke="#000" stroke-width="0.15" font-style="italic">M</text>
<circle cx="505.05" cy="705.2" r="2.3" fill="none" stroke="#000" stroke-width="0.7" />
<circle cx="505.05" cy="705.2" r="0.5" fill="#000" stroke="none" stroke-width="1" />
<text x="509.15" y="703.8" font-family="Liberation Serif" font-size="12.5" text-anchor="start" stroke="#000" stroke-width="0.15" >]</text>
<text x="0" y="0" font-family="Liberation Sans" font-size="12" text-anchor="middle" stroke="#000" stroke-width="0.22" textLength="157" lengthAdjust="spacingAndGlyphs" transform="translate(340,583.25) rotate(-90)">IMF-weighted ejected mass</text>
</svg>
</body></html>
